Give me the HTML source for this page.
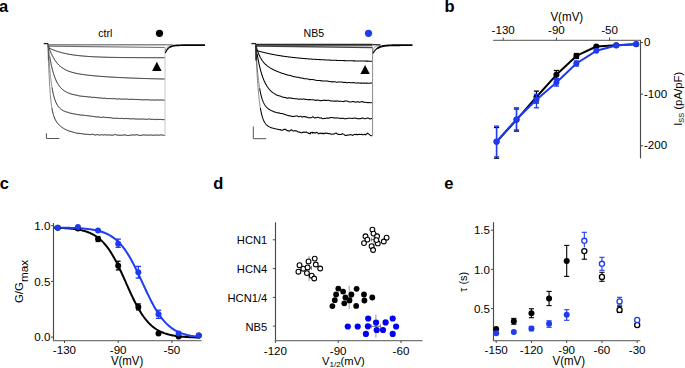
<!DOCTYPE html>
<html><head><meta charset="utf-8"><style>
html,body{margin:0;padding:0;background:#fff;}
body{width:685px;height:368px;overflow:hidden;}
svg{display:block;font-family:"Liberation Sans", sans-serif;}
</style></head><body>
<svg width="685" height="368" viewBox="0 0 685 368">
<rect width="685" height="368" fill="#fff"/>
<text x="-1.1" y="12" font-size="16.5" text-anchor="start" font-weight="bold" fill="#000" >a</text>
<text x="444.6" y="12" font-size="16.5" text-anchor="start" font-weight="bold" fill="#000" >b</text>
<text x="-0.3" y="188.7" font-size="16.5" text-anchor="start" font-weight="bold" fill="#000" >c</text>
<text x="213.3" y="188.7" font-size="16.5" text-anchor="start" font-weight="bold" fill="#000" >d</text>
<text x="444.3" y="188.7" font-size="16.5" text-anchor="start" font-weight="bold" fill="#000" >e</text>
<line x1="43.7" y1="43.6" x2="48.3" y2="43.6" stroke="#222" stroke-width="1.3" />
<line x1="48" y1="44.7" x2="165" y2="44.7" stroke="#888" stroke-width="1.6" />
<line x1="48" y1="46.2" x2="165" y2="47.5" stroke="#707070" stroke-width="1.2" />
<path d="M48.00,44.60 L48.10,45.47 L48.20,46.11 L48.31,46.58 L48.41,46.93 L48.51,47.20 L48.61,47.41 L48.71,47.57 L48.81,47.70 L48.92,47.81 L49.02,47.90 L49.12,47.98 L49.22,48.05 L49.32,48.12 L49.42,48.18 L49.53,48.24 L49.63,48.29 L49.73,48.34 L49.83,48.40 L49.93,48.45 L50.03,48.50 L50.14,48.54 L50.24,48.59 L50.34,48.64 L50.44,48.69 L50.54,48.74 L50.64,48.78 L50.75,48.83 L50.85,48.88 L50.95,48.92 L51.05,48.97 L51.15,49.01 L51.25,49.06 L51.36,49.10 L51.46,49.15 L51.56,49.19 L51.66,49.24 L51.76,49.28 L51.86,49.32 L51.97,49.37 L52.07,49.41 L52.17,49.46 L52.27,49.50 L52.37,49.54 L52.47,49.58 L52.58,49.63 L52.68,49.67 L52.78,49.71 L52.88,49.75 L52.98,49.79 L53.08,49.83 L53.19,49.87 L53.29,49.92 L53.39,49.96 L53.49,50.00 L53.59,50.04 L53.69,50.08 L53.80,50.12 L53.90,50.16 L54.00,50.20 L54.20,50.27 L54.55,50.41 L54.91,50.54 L55.26,50.67 L55.62,50.79 L55.97,50.92 L56.32,51.04 L56.68,51.16 L57.03,51.28 L57.38,51.39 L57.74,51.51 L58.09,51.62 L58.45,51.73 L58.80,51.84 L59.15,51.94 L59.51,52.05 L59.86,52.15 L60.22,52.25 L60.57,52.35 L60.92,52.45 L61.28,52.54 L61.63,52.63 L61.98,52.73 L62.34,52.82 L62.69,52.90 L63.05,52.99 L63.40,53.08 L63.75,53.16 L64.11,53.24 L64.46,53.32 L64.82,53.40 L65.17,53.48 L65.52,53.56 L65.88,53.63 L66.23,53.71 L66.58,53.78 L66.94,53.85 L67.29,53.92 L67.65,53.99 L68.00,54.06 L68.50,54.15 L69.00,54.24 L69.50,54.33 L70.00,54.41 L70.50,54.50 L71.00,54.58 L71.50,54.66 L72.00,54.74 L72.50,54.82 L73.00,54.89 L73.50,54.96 L74.00,55.03 L74.50,55.10 L75.00,55.17 L75.50,55.23 L76.00,55.30 L76.50,55.36 L77.00,55.42 L77.50,55.48 L78.00,55.54 L78.50,55.59 L79.00,55.65 L79.50,55.70 L80.00,55.75 L80.50,55.80 L81.00,55.85 L81.50,55.90 L82.00,55.95 L82.50,55.99 L83.00,56.04 L83.50,56.08 L84.00,56.12 L84.50,56.16 L85.00,56.20 L85.50,56.24 L86.00,56.28 L86.50,56.32 L87.00,56.35 L87.50,56.39 L88.00,56.42 L88.50,56.46 L89.00,56.49 L89.50,56.52 L90.00,56.55 L90.50,56.58 L91.00,56.61 L91.50,56.64 L92.00,56.67 L92.50,56.70 L93.00,56.73 L93.50,56.75 L94.00,56.78 L94.50,56.80 L95.00,56.83 L95.50,56.85 L96.00,56.87 L96.50,56.89 L97.00,56.92 L97.50,56.94 L98.00,56.96 L98.50,56.98 L99.00,57.00 L99.50,57.02 L100.00,57.04 L100.50,57.05 L101.00,57.07 L101.50,57.09 L102.00,57.11 L102.50,57.12 L103.00,57.14 L103.50,57.15 L104.00,57.17 L104.50,57.19 L105.00,57.20 L105.50,57.21 L106.00,57.23 L106.50,57.24 L107.00,57.25 L107.50,57.27 L108.00,57.28 L108.50,57.29 L109.00,57.30 L109.50,57.31 L110.00,57.33 L110.50,57.34 L111.00,57.35 L111.50,57.36 L112.00,57.37 L112.50,57.38 L113.00,57.39 L113.50,57.40 L114.00,57.41 L114.50,57.42 L115.00,57.42 L115.50,57.43 L116.00,57.44 L116.50,57.45 L117.00,57.46 L117.50,57.46 L118.00,57.47 L118.50,57.48 L119.00,57.49 L119.50,57.49 L120.00,57.50 L120.50,57.51 L121.00,57.51 L121.50,57.52 L122.00,57.53 L122.50,57.53 L123.00,57.54 L123.50,57.54 L124.00,57.55 L124.50,57.55 L125.00,57.56 L125.50,57.56 L126.00,57.57 L126.50,57.57 L127.00,57.58 L127.50,57.58 L128.00,57.59 L128.50,57.59 L129.00,57.60 L129.50,57.60 L130.00,57.60 L130.50,57.61 L131.00,57.61 L131.50,57.62 L132.00,57.62 L132.50,57.62 L133.00,57.63 L133.50,57.63 L134.00,57.63 L134.50,57.64 L135.00,57.64 L135.50,57.64 L136.00,57.65 L136.50,57.65 L137.00,57.65 L137.50,57.65 L138.00,57.66 L138.50,57.66 L139.00,57.66 L139.50,57.66 L140.00,57.67 L140.50,57.67 L141.00,57.67 L141.50,57.67 L142.00,57.68 L142.50,57.68 L143.00,57.68 L143.50,57.68 L144.00,57.68 L144.50,57.69 L145.00,57.69 L145.50,57.69 L146.00,57.69 L146.50,57.69 L147.00,57.70 L147.50,57.70 L148.00,57.70 L148.50,57.70 L149.00,57.70 L149.50,57.70 L150.00,57.71 L150.50,57.71 L151.00,57.71 L151.50,57.71 L152.00,57.71 L152.50,57.71 L153.00,57.71 L153.50,57.71 L154.00,57.72 L154.50,57.72 L155.00,57.72 L155.50,57.72 L156.00,57.72 L156.50,57.72 L157.00,57.72 L157.50,57.72 L158.00,57.72 L158.50,57.72 L159.00,57.73 L159.50,57.73 L160.00,57.73 L160.50,57.73 L161.00,57.73 L161.50,57.73 L162.00,57.73 L162.50,57.73 L163.00,57.73 L163.50,57.73 L164.00,57.73 L164.50,57.73 L165.00,57.74" stroke="#161616" stroke-width="1.0" fill="none" stroke-linejoin="round" />
<path d="M48.00,44.60 L48.10,44.93 L48.20,45.26 L48.31,45.58 L48.41,45.90 L48.51,46.21 L48.61,46.52 L48.71,46.83 L48.81,47.14 L48.92,47.44 L49.02,47.73 L49.12,48.03 L49.22,48.32 L49.32,48.60 L49.42,48.89 L49.53,49.17 L49.63,49.44 L49.73,49.72 L49.83,49.99 L49.93,50.26 L50.03,50.52 L50.14,50.78 L50.24,51.04 L50.34,51.30 L50.44,51.55 L50.54,51.80 L50.64,52.05 L50.75,52.29 L50.85,52.53 L50.95,52.77 L51.05,53.00 L51.15,53.24 L51.25,53.47 L51.36,53.69 L51.46,53.92 L51.56,54.14 L51.66,54.36 L51.76,54.58 L51.86,54.79 L51.97,55.01 L52.07,55.22 L52.17,55.42 L52.27,55.63 L52.37,55.83 L52.47,56.03 L52.58,56.23 L52.68,56.43 L52.78,56.62 L52.88,56.81 L52.98,57.00 L53.08,57.19 L53.19,57.38 L53.29,57.56 L53.39,57.74 L53.49,57.92 L53.59,58.10 L53.69,58.27 L53.80,58.44 L53.90,58.62 L54.00,58.78 L54.20,59.11 L54.55,59.67 L54.91,60.21 L55.26,60.73 L55.62,61.23 L55.97,61.72 L56.32,62.18 L56.68,62.62 L57.03,63.05 L57.38,63.47 L57.74,63.86 L58.09,64.25 L58.45,64.62 L58.80,64.97 L59.15,65.31 L59.51,65.64 L59.86,65.96 L60.22,66.27 L60.57,66.57 L60.92,66.85 L61.28,67.13 L61.63,67.39 L61.98,67.65 L62.34,67.90 L62.69,68.13 L63.05,68.37 L63.40,68.59 L63.75,68.80 L64.11,69.01 L64.46,69.21 L64.82,69.41 L65.17,69.60 L65.52,69.78 L65.88,69.95 L66.23,70.12 L66.58,70.29 L66.94,70.45 L67.29,70.60 L67.65,70.75 L68.00,70.90 L68.50,71.10 L69.00,71.29 L69.50,71.47 L70.00,71.64 L70.50,71.81 L71.00,71.97 L71.50,72.13 L72.00,72.27 L72.50,72.42 L73.00,72.55 L73.50,72.69 L74.00,72.81 L74.50,72.94 L75.00,73.06 L75.50,73.17 L76.00,73.28 L76.50,73.39 L77.00,73.49 L77.50,73.59 L78.00,73.69 L78.50,73.78 L79.00,73.88 L79.50,73.96 L80.00,74.05 L80.50,74.13 L81.00,74.22 L81.50,74.30 L82.00,74.37 L82.50,74.45 L83.00,74.52 L83.50,74.59 L84.00,74.66 L84.50,74.73 L85.00,74.80 L85.50,74.86 L86.00,74.93 L86.50,74.99 L87.00,75.05 L87.50,75.11 L88.00,75.17 L88.50,75.22 L89.00,75.28 L89.50,75.33 L90.00,75.39 L90.50,75.44 L91.00,75.49 L91.50,75.54 L92.00,75.60 L92.50,75.64 L93.00,75.69 L93.50,75.74 L94.00,75.79 L94.50,75.83 L95.00,75.88 L95.50,75.92 L96.00,75.97 L96.50,76.01 L97.00,76.05 L97.50,76.10 L98.00,76.14 L98.50,76.18 L99.00,76.22 L99.50,76.26 L100.00,76.30 L100.50,76.34 L101.00,76.38 L101.50,76.41 L102.00,76.45 L102.50,76.49 L103.00,76.52 L103.50,76.56 L104.00,76.60 L104.50,76.63 L105.00,76.67 L105.50,76.70 L106.00,76.73 L106.50,76.77 L107.00,76.80 L107.50,76.83 L108.00,76.87 L108.50,76.90 L109.00,76.93 L109.50,76.96 L110.00,76.99 L110.50,77.02 L111.00,77.05 L111.50,77.08 L112.00,77.11 L112.50,77.14 L113.00,77.17 L113.50,77.20 L114.00,77.23 L114.50,77.25 L115.00,77.28 L115.50,77.31 L116.00,77.34 L116.50,77.36 L117.00,77.39 L117.50,77.42 L118.00,77.44 L118.50,77.47 L119.00,77.49 L119.50,77.52 L120.00,77.54 L120.50,77.57 L121.00,77.59 L121.50,77.62 L122.00,77.64 L122.50,77.67 L123.00,77.69 L123.50,77.71 L124.00,77.74 L124.50,77.76 L125.00,77.78 L125.50,77.80 L126.00,77.82 L126.50,77.85 L127.00,77.87 L127.50,77.89 L128.00,77.91 L128.50,77.93 L129.00,77.95 L129.50,77.97 L130.00,77.99 L130.50,78.01 L131.00,78.03 L131.50,78.05 L132.00,78.07 L132.50,78.09 L133.00,78.11 L133.50,78.13 L134.00,78.15 L134.50,78.17 L135.00,78.19 L135.50,78.21 L136.00,78.22 L136.50,78.24 L137.00,78.26 L137.50,78.28 L138.00,78.29 L138.50,78.31 L139.00,78.33 L139.50,78.35 L140.00,78.36 L140.50,78.38 L141.00,78.40 L141.50,78.41 L142.00,78.43 L142.50,78.44 L143.00,78.46 L143.50,78.48 L144.00,78.49 L144.50,78.51 L145.00,78.52 L145.50,78.54 L146.00,78.55 L146.50,78.57 L147.00,78.58 L147.50,78.60 L148.00,78.61 L148.50,78.62 L149.00,78.64 L149.50,78.65 L150.00,78.67 L150.50,78.68 L151.00,78.69 L151.50,78.71 L152.00,78.72 L152.50,78.73 L153.00,78.75 L153.50,78.76 L154.00,78.77 L154.50,78.78 L155.00,78.80 L155.50,78.81 L156.00,78.82 L156.50,78.83 L157.00,78.84 L157.50,78.86 L158.00,78.87 L158.50,78.88 L159.00,78.89 L159.50,78.90 L160.00,78.91 L160.50,78.93 L161.00,78.94 L161.50,78.95 L162.00,78.96 L162.50,78.97 L163.00,78.98 L163.50,78.99 L164.00,79.00 L164.50,79.01 L165.00,79.02" stroke="#161616" stroke-width="1.0" fill="none" stroke-linejoin="round" />
<path d="M48.00,44.60 L48.10,45.40 L48.20,46.19 L48.31,46.96 L48.41,47.72 L48.51,48.47 L48.61,49.21 L48.71,49.93 L48.81,50.64 L48.92,51.34 L49.02,52.03 L49.12,52.71 L49.22,53.38 L49.32,54.03 L49.42,54.68 L49.53,55.31 L49.63,55.94 L49.73,56.55" stroke="#666" stroke-width="0.8" fill="none" stroke-linejoin="round" />
<path d="M49.73,56.55 L49.83,57.15 L49.93,57.75 L50.03,58.33 L50.14,58.91 L50.24,59.47 L50.34,60.03 L50.44,60.58 L50.54,61.11 L50.64,61.64 L50.75,62.16 L50.85,62.68 L50.95,63.18 L51.05,63.68 L51.15,64.16 L51.25,64.64 L51.36,65.12 L51.46,65.58 L51.56,66.04 L51.66,66.49 L51.76,66.93 L51.86,67.36 L51.97,67.79 L52.07,68.21 L52.17,68.63 L52.27,69.04 L52.37,69.44 L52.47,69.83 L52.58,70.22 L52.68,70.60 L52.78,70.98 L52.88,71.35 L52.98,71.71 L53.08,72.07 L53.19,72.42 L53.29,72.77 L53.39,73.11 L53.49,73.45 L53.59,73.78 L53.69,74.10 L53.80,74.42 L53.90,74.74 L54.00,75.05 L54.20,75.65 L54.55,76.65 L54.91,77.61 L55.26,78.51 L55.62,79.37 L55.97,80.18 L56.32,80.94 L56.68,81.67 L57.03,82.36 L57.38,83.01 L57.74,83.63 L58.09,84.21 L58.45,84.77 L58.80,85.30 L59.15,85.80 L59.51,86.27 L59.86,86.72 L60.22,87.15 L60.57,87.56 L60.92,87.95 L61.28,88.32 L61.63,88.67 L61.98,89.00 L62.34,89.32 L62.69,89.62 L63.05,89.91 L63.40,90.18 L63.75,90.44 L64.11,90.69 L64.46,90.93 L64.82,91.16 L65.17,91.36 L65.52,91.57 L65.88,91.77 L66.23,91.98 L66.58,92.18 L66.94,92.36 L67.29,92.51 L67.65,92.66 L68.00,92.83 L68.50,93.03 L69.00,93.22 L69.50,93.41 L70.00,93.58 L70.50,93.77 L71.00,94.00 L71.50,94.20 L72.00,94.38 L72.50,94.46 L73.00,94.50 L73.50,94.55 L74.00,94.63 L74.50,94.74 L75.00,94.90 L75.50,95.08 L76.00,95.10 L76.50,95.26 L77.00,95.26 L77.50,95.30 L78.00,95.48 L78.50,95.72 L79.00,95.83 L79.50,95.95 L80.00,96.00 L80.50,96.06 L81.00,96.18 L81.50,96.28 L82.00,96.29 L82.50,96.26 L83.00,96.25 L83.50,96.32 L84.00,96.47 L84.50,96.53 L85.00,96.61 L85.50,96.61 L86.00,96.60 L86.50,96.63 L87.00,96.73 L87.50,96.88 L88.00,96.96 L88.50,97.03 L89.00,97.00 L89.50,96.86 L90.00,96.95 L90.50,97.07 L91.00,97.17 L91.50,97.30 L92.00,97.33 L92.50,97.34 L93.00,97.30 L93.50,97.31 L94.00,97.35 L94.50,97.35 L95.00,97.44 L95.50,97.46 L96.00,97.48 L96.50,97.60 L97.00,97.65 L97.50,97.72 L98.00,97.81 L98.50,97.84 L99.00,97.98 L99.50,97.92 L100.00,97.96 L100.50,97.94 L101.00,97.90 L101.50,98.08 L102.00,98.12 L102.50,98.23 L103.00,98.26 L103.50,98.33 L104.00,98.30 L104.50,98.27 L105.00,98.33 L105.50,98.26 L106.00,98.41 L106.50,98.50 L107.00,98.59 L107.50,98.65 L108.00,98.55 L108.50,98.54 L109.00,98.49 L109.50,98.49 L110.00,98.56 L110.50,98.57 L111.00,98.64 L111.50,98.67 L112.00,98.72 L112.50,98.72 L113.00,98.61 L113.50,98.64 L114.00,98.55 L114.50,98.61 L115.00,98.74 L115.50,98.80 L116.00,98.92 L116.50,99.01 L117.00,99.00 L117.50,99.02 L118.00,99.00 L118.50,98.86 L119.00,98.90 L119.50,98.83 L120.00,98.89 L120.50,98.99 L121.00,99.03 L121.50,99.13 L122.00,99.08 L122.50,99.12 L123.00,99.05 L123.50,99.07 L124.00,99.13 L124.50,99.12 L125.00,99.16 L125.50,99.14 L126.00,99.15 L126.50,99.07 L127.00,99.08 L127.50,99.08 L128.00,99.17 L128.50,99.35 L129.00,99.28 L129.50,99.36 L130.00,99.31 L130.50,99.21 L131.00,99.35 L131.50,99.34 L132.00,99.27 L132.50,99.33 L133.00,99.31 L133.50,99.35 L134.00,99.39 L134.50,99.45 L135.00,99.51 L135.50,99.46 L136.00,99.50 L136.50,99.48 L137.00,99.42 L137.50,99.58 L138.00,99.64 L138.50,99.60 L139.00,99.61 L139.50,99.53 L140.00,99.64 L140.50,99.70 L141.00,99.75 L141.50,99.79 L142.00,99.69 L142.50,99.82 L143.00,99.80 L143.50,99.82 L144.00,99.84 L144.50,99.77 L145.00,99.75 L145.50,99.81 L146.00,99.81 L146.50,99.79 L147.00,99.81 L147.50,99.70 L148.00,99.74 L148.50,99.80 L149.00,99.89 L149.50,100.00 L150.00,100.01 L150.50,99.98 L151.00,99.99 L151.50,99.97 L152.00,99.93 L152.50,99.98 L153.00,100.01 L153.50,100.00 L154.00,99.99 L154.50,100.00 L155.00,100.04 L155.50,100.03 L156.00,100.05 L156.50,100.01 L157.00,99.99 L157.50,99.91 L158.00,99.94 L158.50,100.02 L159.00,99.92 L159.50,100.10 L160.00,100.11 L160.50,100.03 L161.00,100.09 L161.50,99.94 L162.00,99.90 L162.50,100.02 L163.00,99.97 L163.50,100.15 L164.00,100.18 L164.50,100.14 L165.00,100.20" stroke="#161616" stroke-width="1.0" fill="none" stroke-linejoin="round" />
<path d="M48.00,44.60 L48.10,46.33 L48.20,48.02 L48.31,49.66 L48.41,51.25 L48.51,52.81 L48.61,54.32 L48.71,55.79 L48.81,57.23 L48.92,58.62 L49.02,59.98 L49.12,61.30 L49.22,62.59 L49.32,63.85 L49.42,65.07 L49.53,66.25 L49.63,67.41 L49.73,68.54 L49.83,69.64 L49.93,70.70 L50.03,71.74 L50.14,72.76 L50.24,73.74 L50.34,74.70 L50.44,75.64 L50.54,76.55 L50.64,77.44 L50.75,78.30 L50.85,79.14 L50.95,79.96 L51.05,80.76 L51.15,81.53 L51.25,82.29 L51.36,83.03 L51.46,83.75 L51.56,84.45 L51.66,85.13 L51.76,85.79 L51.86,86.44 L51.97,87.07 L52.07,87.68" stroke="#666" stroke-width="0.8" fill="none" stroke-linejoin="round" />
<path d="M52.07,87.68 L52.17,88.28 L52.27,88.86 L52.37,89.43 L52.47,89.98 L52.58,90.52 L52.68,91.04 L52.78,91.55 L52.88,92.05 L52.98,92.54 L53.08,93.01 L53.19,93.47 L53.29,93.92 L53.39,94.36 L53.49,94.79 L53.59,95.20 L53.69,95.61 L53.80,96.00 L53.90,96.39 L54.00,96.76 L54.20,97.48 L54.55,98.65 L54.91,99.73 L55.26,100.72 L55.62,101.62 L55.97,102.46 L56.32,103.22 L56.68,103.93 L57.03,104.57 L57.38,105.17 L57.74,105.72 L58.09,106.23 L58.45,106.70 L58.80,107.14 L59.15,107.54 L59.51,107.92 L59.86,108.26 L60.22,108.59 L60.57,108.89 L60.92,109.17 L61.28,109.44 L61.63,109.68 L61.98,109.92 L62.34,110.13 L62.69,110.34 L63.05,110.53 L63.40,110.71 L63.75,110.88 L64.11,111.05 L64.46,111.22 L64.82,111.36 L65.17,111.50 L65.52,111.62 L65.88,111.76 L66.23,111.89 L66.58,112.00 L66.94,112.11 L67.29,112.20 L67.65,112.32 L68.00,112.44 L68.50,112.60 L69.00,112.77 L69.50,112.90 L70.00,113.05 L70.50,113.22 L71.00,113.33 L71.50,113.42 L72.00,113.53 L72.50,113.58 L73.00,113.70 L73.50,113.79 L74.00,113.94 L74.50,113.99 L75.00,114.04 L75.50,114.17 L76.00,114.14 L76.50,114.36 L77.00,114.45 L77.50,114.52 L78.00,114.59 L78.50,114.63 L79.00,114.73 L79.50,114.85 L80.00,114.96 L80.50,115.05 L81.00,115.07 L81.50,115.13 L82.00,115.13 L82.50,115.12 L83.00,115.18 L83.50,115.12 L84.00,115.22 L84.50,115.37 L85.00,115.46 L85.50,115.52 L86.00,115.67 L86.50,115.62 L87.00,115.68 L87.50,115.71 L88.00,115.65 L88.50,115.85 L89.00,115.85 L89.50,115.95 L90.00,116.06 L90.50,116.10 L91.00,116.18 L91.50,116.28 L92.00,116.42 L92.50,116.40 L93.00,116.43 L93.50,116.45 L94.00,116.50 L94.50,116.66 L95.00,116.81 L95.50,116.89 L96.00,116.85 L96.50,116.89 L97.00,116.84 L97.50,116.93 L98.00,117.03 L98.50,116.98 L99.00,117.04 L99.50,117.03 L100.00,117.13 L100.50,117.37 L101.00,117.41 L101.50,117.46 L102.00,117.25 L102.50,117.15 L103.00,117.19 L103.50,117.17 L104.00,117.39 L104.50,117.32 L105.00,117.34 L105.50,117.45 L106.00,117.36 L106.50,117.54 L107.00,117.65 L107.50,117.59 L108.00,117.62 L108.50,117.63 L109.00,117.60 L109.50,117.64 L110.00,117.74 L110.50,117.73 L111.00,117.75 L111.50,117.91 L112.00,117.98 L112.50,118.12 L113.00,118.24 L113.50,118.26 L114.00,118.33 L114.50,118.33 L115.00,118.31 L115.50,118.22 L116.00,118.24 L116.50,118.19 L117.00,118.27 L117.50,118.37 L118.00,118.38 L118.50,118.42 L119.00,118.45 L119.50,118.47 L120.00,118.45 L120.50,118.47 L121.00,118.37 L121.50,118.39 L122.00,118.43 L122.50,118.45 L123.00,118.61 L123.50,118.60 L124.00,118.62 L124.50,118.61 L125.00,118.56 L125.50,118.53 L126.00,118.51 L126.50,118.53 L127.00,118.55 L127.50,118.63 L128.00,118.66 L128.50,118.63 L129.00,118.65 L129.50,118.75 L130.00,118.82 L130.50,118.90 L131.00,118.91 L131.50,118.79 L132.00,118.77 L132.50,118.75 L133.00,118.76 L133.50,118.83 L134.00,118.79 L134.50,118.89 L135.00,118.99 L135.50,118.99 L136.00,119.10 L136.50,119.07 L137.00,119.03 L137.50,118.97 L138.00,119.05 L138.50,119.02 L139.00,119.07 L139.50,119.17 L140.00,119.07 L140.50,119.10 L141.00,119.09 L141.50,119.04 L142.00,119.06 L142.50,119.05 L143.00,118.90 L143.50,119.05 L144.00,119.12 L144.50,119.15 L145.00,119.34 L145.50,119.21 L146.00,119.19 L146.50,119.30 L147.00,119.30 L147.50,119.24 L148.00,119.05 L148.50,118.89 L149.00,118.91 L149.50,119.02 L150.00,119.22 L150.50,119.33 L151.00,119.22 L151.50,119.27 L152.00,119.34 L152.50,119.34 L153.00,119.43 L153.50,119.39 L154.00,119.38 L154.50,119.34 L155.00,119.40 L155.50,119.60 L156.00,119.53 L156.50,119.43 L157.00,119.34 L157.50,119.21 L158.00,119.33 L158.50,119.53 L159.00,119.52 L159.50,119.46 L160.00,119.48 L160.50,119.35 L161.00,119.47 L161.50,119.51 L162.00,119.49 L162.50,119.60 L163.00,119.59 L163.50,119.66 L164.00,119.56 L164.50,119.55 L165.00,119.51" stroke="#161616" stroke-width="1.0" fill="none" stroke-linejoin="round" />
<path d="M48.00,44.60 L48.10,48.16 L48.20,51.55 L48.31,54.77 L48.41,57.83 L48.51,60.74 L48.61,63.51 L48.71,66.15 L48.81,68.65 L48.92,71.04 L49.02,73.31 L49.12,75.47 L49.22,77.53 L49.32,79.49 L49.42,81.36 L49.53,83.14 L49.63,84.84 L49.73,86.46 L49.83,88.00 L49.93,89.47 L50.03,90.87 L50.14,92.21 L50.24,93.48 L50.34,94.70 L50.44,95.86 L50.54,96.98 L50.64,98.04 L50.75,99.05 L50.85,100.02 L50.95,100.95 L51.05,101.84 L51.15,102.69 L51.25,103.50 L51.36,104.28 L51.46,105.02 L51.56,105.74 L51.66,106.42 L51.76,107.08 L51.86,107.71 L51.97,108.31" stroke="#666" stroke-width="0.8" fill="none" stroke-linejoin="round" />
<path d="M51.97,108.31 L52.07,108.90 L52.17,109.45 L52.27,109.99 L52.37,110.50 L52.47,111.00 L52.58,111.48 L52.68,111.94 L52.78,112.38 L52.88,112.80 L52.98,113.22 L53.08,113.61 L53.19,113.99 L53.29,114.36 L53.39,114.72 L53.49,115.06 L53.59,115.40 L53.69,115.72 L53.80,116.03 L53.90,116.33 L54.00,116.62 L54.20,117.17 L54.55,118.07 L54.91,118.88 L55.26,119.62 L55.62,120.29 L55.97,120.91 L56.32,121.49 L56.68,122.02 L57.03,122.52 L57.38,122.99 L57.74,123.43 L58.09,123.85 L58.45,124.25 L58.80,124.62 L59.15,124.98 L59.51,125.32 L59.86,125.65 L60.22,125.96 L60.57,126.26 L60.92,126.55 L61.28,126.83 L61.63,127.10 L61.98,127.35 L62.34,127.60 L62.69,127.84 L63.05,128.08 L63.40,128.30 L63.75,128.51 L64.11,128.73 L64.46,128.95 L64.82,129.13 L65.17,129.33 L65.52,129.51 L65.88,129.68 L66.23,129.89 L66.58,129.98 L66.94,130.13 L67.29,130.29 L67.65,130.42 L68.00,130.67 L68.50,130.89 L69.00,131.03 L69.50,131.18 L70.00,131.31 L70.50,131.45 L71.00,131.63 L71.50,131.71 L72.00,131.87 L72.50,132.01 L73.00,132.21 L73.50,132.33 L74.00,132.53 L74.50,132.43 L75.00,132.50 L75.50,132.89 L76.00,132.84 L76.50,133.19 L77.00,133.22 L77.50,133.24 L78.00,133.23 L78.50,133.31 L79.00,133.50 L79.50,133.36 L80.00,133.63 L80.50,133.55 L81.00,133.54 L81.50,133.69 L82.00,133.63 L82.50,133.86 L83.00,134.06 L83.50,134.09 L84.00,134.12 L84.50,134.08 L85.00,134.01 L85.50,134.15 L86.00,134.23 L86.50,134.35 L87.00,134.41 L87.50,134.30 L88.00,134.43 L88.50,134.33 L89.00,134.37 L89.50,134.61 L90.00,134.47 L90.50,134.58 L91.00,134.47 L91.50,134.31 L92.00,134.30 L92.50,134.29 L93.00,134.41 L93.50,134.49 L94.00,134.79 L94.50,134.86 L95.00,134.99 L95.50,134.99 L96.00,134.84 L96.50,134.76 L97.00,134.55 L97.50,134.58 L98.00,134.76 L98.50,134.89 L99.00,135.02 L99.50,135.17 L100.00,135.00 L100.50,134.91 L101.00,134.86 L101.50,134.64 L102.00,134.67 L102.50,134.91 L103.00,135.01 L103.50,135.01 L104.00,134.99 L104.50,134.80 L105.00,134.67 L105.50,134.78 L106.00,134.90 L106.50,134.96 L107.00,135.17 L107.50,135.05 L108.00,134.84 L108.50,134.94 L109.00,134.98 L109.50,134.97 L110.00,135.14 L110.50,135.03 L111.00,134.99 L111.50,135.15 L112.00,135.09 L112.50,135.11 L113.00,135.08 L113.50,135.06 L114.00,134.94 L114.50,134.66 L115.00,134.58 L115.50,134.44 L116.00,134.63 L116.50,134.96 L117.00,135.06 L117.50,135.18 L118.00,135.16 L118.50,135.21 L119.00,135.12 L119.50,135.24 L120.00,135.30 L120.50,135.22 L121.00,135.42 L121.50,135.27 L122.00,135.29 L122.50,135.19 L123.00,134.99 L123.50,134.96 L124.00,134.92 L124.50,134.92 L125.00,134.99 L125.50,134.99 L126.00,135.04 L126.50,135.29 L127.00,135.31 L127.50,135.56 L128.00,135.52 L128.50,135.55 L129.00,135.54 L129.50,135.25 L130.00,135.33 L130.50,135.13 L131.00,135.03 L131.50,135.11 L132.00,134.83 L132.50,134.83 L133.00,134.82 L133.50,135.02 L134.00,135.22 L134.50,135.09 L135.00,135.05 L135.50,134.87 L136.00,134.63 L136.50,134.77 L137.00,134.91 L137.50,134.89 L138.00,135.01 L138.50,135.07 L139.00,135.20 L139.50,135.41 L140.00,135.46 L140.50,135.49 L141.00,135.30 L141.50,135.20 L142.00,135.11 L142.50,135.10 L143.00,135.05 L143.50,134.93 L144.00,135.02 L144.50,135.00 L145.00,134.98 L145.50,135.02 L146.00,135.04 L146.50,135.01 L147.00,135.06 L147.50,135.12 L148.00,135.08 L148.50,135.19 L149.00,135.31 L149.50,135.18 L150.00,135.01 L150.50,134.89 L151.00,134.95 L151.50,135.08 L152.00,135.36 L152.50,135.31 L153.00,135.08 L153.50,135.13 L154.00,135.06 L154.50,135.17 L155.00,135.17 L155.50,135.12 L156.00,135.05 L156.50,135.06 L157.00,135.13 L157.50,135.06 L158.00,135.07 L158.50,135.11 L159.00,135.16 L159.50,135.15 L160.00,135.11 L160.50,134.90 L161.00,135.03 L161.50,134.94 L162.00,134.95 L162.50,135.10 L163.00,135.08 L163.50,135.23 L164.00,135.37 L164.50,135.39 L165.00,135.37" stroke="#161616" stroke-width="1.0" fill="none" stroke-linejoin="round" />
<line x1="48.4" y1="44.5" x2="48.4" y2="60.5" stroke="#555" stroke-width="1.0" />
<line x1="165" y1="47" x2="165" y2="135.8" stroke="#c8c8c8" stroke-width="1" />
<path d="M165.20,50.50 L165.20,50.05 L165.56,49.34 L165.92,48.73 L166.27,48.21 L166.63,47.78 L166.99,47.41 L167.35,47.09 L167.71,46.82 L168.06,46.59 L168.42,46.40 L168.78,46.23 L169.14,46.09 L169.49,45.97 L169.85,45.87 L170.21,45.79 L170.57,45.71 L170.93,45.65 L171.28,45.60 L171.64,45.55 L172.00,45.52" stroke="#777" stroke-width="0.8" fill="none" stroke-linejoin="round" />
<path d="M165.30,53.09 L165.54,52.54 L165.78,52.03 L166.01,51.55 L166.25,51.11 L166.49,50.69 L166.73,50.31 L166.96,49.95 L167.20,49.62 L167.44,49.31 L167.68,49.02 L167.91,48.75 L168.15,48.50 L168.39,48.27 L168.62,48.05 L168.86,47.85 L169.10,47.66 L169.34,47.49 L169.57,47.32 L169.81,47.17 L170.05,47.03 L170.29,46.90 L170.53,46.78 L170.76,46.67 L171.00,46.56" stroke="#000" stroke-width="1.25" fill="none" stroke-linejoin="round" />
<path d="M170.00,47.06 L170.37,46.86 L170.74,46.68 L171.11,46.52 L171.47,46.37 L171.84,46.24 L172.21,46.13 L172.58,46.03 L172.95,45.93 L173.32,45.85 L173.68,45.78 L174.05,45.71 L174.42,45.65 L174.79,45.60 L175.16,45.55 L175.53,45.51 L175.89,45.47 L176.26,45.44 L176.63,45.41 L177.00,45.38 L177.50,45.35 L178.95,45.28 L180.39,45.23 L181.84,45.20 L183.29,45.18 L184.74,45.17 L186.18,45.16 L187.63,45.16 L189.08,45.16 L190.53,45.15 L191.97,45.15 L193.42,45.15 L194.87,45.15 L196.32,45.15 L197.76,45.15 L199.21,45.15 L200.66,45.15 L202.11,45.15 L203.55,45.15 L205.00,45.15" stroke="#000" stroke-width="1.7" fill="none" stroke-linejoin="round" />
<line x1="165" y1="44.7" x2="173" y2="44.9" stroke="#888" stroke-width="1.2" />
<text x="98.2" y="37.2" font-size="10.6" text-anchor="start" font-weight="normal" fill="#000" >ctrl</text>
<circle cx="159.50" cy="33.30" r="3.6" fill="#000" stroke="none" stroke-width="0"/>
<polygon points="152.1,70.9 161.6,70.9 156.85,61.7" fill="#000"/>
<path d="M46.40,133.30 L46.40,138.50 L59.30,138.50" stroke="#555" stroke-width="1" fill="none" stroke-linejoin="round" />
<line x1="251.39999999999998" y1="43.6" x2="256.0" y2="43.6" stroke="#222" stroke-width="1.3" />
<line x1="255.7" y1="44.7" x2="372.6" y2="44.7" stroke="#2a2a2a" stroke-width="1.9" />
<line x1="255.7" y1="46.2" x2="372.6" y2="47.5" stroke="#444" stroke-width="1.3" />
<path d="M255.70,44.60 L255.80,46.25 L255.90,47.44 L256.01,48.29 L256.11,48.91 L256.21,49.36 L256.31,49.69 L256.41,49.94 L256.51,50.12 L256.62,50.26 L256.72,50.37 L256.82,50.45 L256.92,50.52 L257.02,50.58 L257.12,50.63 L257.23,50.68 L257.33,50.72 L257.43,50.75 L257.53,50.79 L257.63,50.82 L257.73,50.85 L257.84,50.88 L257.94,50.91 L258.04,50.94 L258.14,50.97 L258.24,51.00 L258.34,51.03 L258.45,51.06 L258.55,51.09 L258.65,51.12 L258.75,51.15 L258.85,51.18 L258.95,51.20 L259.06,51.23 L259.16,51.26 L259.26,51.29 L259.36,51.32 L259.46,51.34 L259.56,51.37 L259.67,51.40 L259.77,51.43 L259.87,51.46 L259.97,51.48 L260.07,51.51 L260.17,51.54 L260.28,51.57 L260.38,51.59 L260.48,51.62 L260.58,51.65 L260.68,51.67 L260.78,51.70 L260.89,51.73 L260.99,51.76 L261.09,51.78 L261.19,51.81 L261.29,51.84 L261.39,51.86 L261.50,51.89 L261.60,51.91 L261.70,51.94 L261.90,51.99 L262.25,52.08 L262.61,52.17 L262.96,52.26 L263.32,52.35 L263.67,52.44 L264.02,52.52 L264.38,52.61 L264.73,52.69 L265.08,52.78 L265.44,52.86 L265.79,52.94 L266.15,53.03 L266.50,53.11 L266.85,53.19 L267.21,53.27 L267.56,53.34 L267.92,53.42 L268.27,53.50 L268.62,53.58 L268.98,53.65 L269.33,53.73 L269.68,53.80 L270.04,53.88 L270.39,53.95 L270.75,54.02 L271.10,54.09 L271.45,54.16 L271.81,54.23 L272.16,54.30 L272.52,54.37 L272.87,54.44 L273.22,54.51 L273.58,54.58 L273.93,54.64 L274.28,54.71 L274.64,54.77 L274.99,54.84 L275.35,54.90 L275.70,54.97 L276.20,55.06 L276.70,55.14 L277.20,55.23 L277.70,55.31 L278.20,55.40 L278.70,55.48 L279.20,55.56 L279.70,55.64 L280.20,55.72 L280.70,55.80 L281.20,55.88 L281.70,55.96 L282.20,56.03 L282.70,56.11 L283.20,56.18 L283.70,56.25 L284.20,56.33 L284.70,56.40 L285.20,56.47 L285.70,56.54 L286.20,56.60 L286.70,56.67 L287.20,56.74 L287.70,56.80 L288.20,56.87 L288.70,56.93 L289.20,57.00 L289.70,57.06 L290.20,57.12 L290.70,57.18 L291.20,57.24 L291.70,57.30 L292.20,57.36 L292.70,57.41 L293.20,57.47 L293.70,57.53 L294.20,57.58 L294.70,57.64 L295.20,57.69 L295.70,57.74 L296.20,57.79 L296.70,57.85 L297.20,57.90 L297.70,57.95 L298.20,58.00 L298.70,58.05 L299.20,58.09 L299.70,58.14 L300.20,58.19 L300.70,58.24 L301.20,58.28 L301.70,58.33 L302.20,58.37 L302.70,58.42 L303.20,58.46 L303.70,58.50 L304.20,58.54 L304.70,58.59 L305.20,58.63 L305.70,58.67 L306.20,58.71 L306.70,58.75 L307.20,58.79 L307.70,58.83 L308.20,58.86 L308.70,58.90 L309.20,58.94 L309.70,58.98 L310.20,59.01 L310.70,59.05 L311.20,59.08 L311.70,59.12 L312.20,59.15 L312.70,59.19 L313.20,59.22 L313.70,59.25 L314.20,59.28 L314.70,59.32 L315.20,59.35 L315.70,59.38 L316.20,59.41 L316.70,59.44 L317.20,59.47 L317.70,59.50 L318.20,59.53 L318.70,59.56 L319.20,59.59 L319.70,59.62 L320.20,59.64 L320.70,59.67 L321.20,59.70 L321.70,59.72 L322.20,59.75 L322.70,59.78 L323.20,59.80 L323.70,59.83 L324.20,59.85 L324.70,59.88 L325.20,59.90 L325.70,59.93 L326.20,59.95 L326.70,59.97 L327.20,60.00 L327.70,60.02 L328.20,60.04 L328.70,60.06 L329.20,60.09 L329.70,60.11 L330.20,60.13 L330.70,60.15 L331.20,60.17 L331.70,60.19 L332.20,60.21 L332.70,60.23 L333.20,60.25 L333.70,60.27 L334.20,60.29 L334.70,60.31 L335.20,60.33 L335.70,60.35 L336.20,60.36 L336.70,60.38 L337.20,60.40 L337.70,60.42 L338.20,60.43 L338.70,60.45 L339.20,60.47 L339.70,60.48 L340.20,60.50 L340.70,60.52 L341.20,60.53 L341.70,60.55 L342.20,60.56 L342.70,60.58 L343.20,60.59 L343.70,60.61 L344.20,60.62 L344.70,60.64 L345.20,60.65 L345.70,60.67 L346.20,60.68 L346.70,60.69 L347.20,60.71 L347.70,60.72 L348.20,60.74 L348.70,60.75 L349.20,60.76 L349.70,60.77 L350.20,60.79 L350.70,60.80 L351.20,60.81 L351.70,60.82 L352.20,60.84 L352.70,60.85 L353.20,60.86 L353.70,60.87 L354.20,60.88 L354.70,60.89 L355.20,60.90 L355.70,60.91 L356.20,60.93 L356.70,60.94 L357.20,60.95 L357.70,60.96 L358.20,60.97 L358.70,60.98 L359.20,60.99 L359.70,61.00 L360.20,61.01 L360.70,61.02 L361.20,61.03 L361.70,61.03 L362.20,61.04 L362.70,61.05 L363.20,61.06 L363.70,61.07 L364.20,61.08 L364.70,61.09 L365.20,61.10 L365.70,61.10 L366.20,61.11 L366.70,61.12 L367.20,61.13 L367.70,61.14 L368.20,61.14 L368.70,61.15 L369.20,61.16 L369.70,61.17 L370.20,61.18 L370.70,61.18 L371.20,61.19 L371.70,61.20 L372.20,61.20" stroke="#000" stroke-width="1.05" fill="none" stroke-linejoin="round" />
<path d="M255.70,44.60 L255.80,45.00 L255.90,45.39 L256.01,45.78 L256.11,46.16 L256.21,46.53 L256.31,46.90 L256.41,47.26 L256.51,47.61 L256.62,47.96 L256.72,48.30 L256.82,48.64 L256.92,48.97 L257.02,49.29 L257.12,49.61 L257.23,49.92 L257.33,50.23 L257.43,50.53 L257.53,50.83 L257.63,51.12 L257.73,51.41 L257.84,51.69 L257.94,51.97 L258.04,52.25 L258.14,52.52 L258.24,52.78 L258.34,53.04 L258.45,53.30 L258.55,53.55 L258.65,53.80 L258.75,54.04 L258.85,54.28 L258.95,54.52 L259.06,54.75 L259.16,54.98 L259.26,55.21 L259.36,55.43 L259.46,55.65 L259.56,55.86 L259.67,56.07 L259.77,56.28 L259.87,56.49 L259.97,56.69 L260.07,56.89 L260.17,57.08 L260.28,57.28 L260.38,57.47 L260.48,57.65 L260.58,57.84 L260.68,58.02 L260.78,58.20 L260.89,58.38 L260.99,58.55 L261.09,58.72 L261.19,58.89 L261.29,59.06 L261.39,59.22 L261.50,59.38 L261.60,59.54 L261.70,59.70 L261.90,60.00 L262.25,60.52 L262.61,61.01 L262.96,61.48 L263.32,61.93 L263.67,62.36 L264.02,62.77 L264.38,63.16 L264.73,63.54 L265.08,63.90 L265.44,64.25 L265.79,64.58 L266.15,64.91 L266.50,65.22 L266.85,65.52 L267.21,65.81 L267.56,66.09 L267.92,66.36 L268.27,66.62 L268.62,66.88 L268.98,67.12 L269.33,67.36 L269.68,67.59 L270.04,67.82 L270.39,68.04 L270.75,68.25 L271.10,68.46 L271.45,68.67 L271.81,68.86 L272.16,69.07 L272.52,69.26 L272.87,69.44 L273.22,69.65 L273.58,69.81 L273.93,70.00 L274.28,70.13 L274.64,70.26 L274.99,70.42 L275.35,70.56 L275.70,70.75 L276.20,70.93 L276.70,71.15 L277.20,71.39 L277.70,71.59 L278.20,71.86 L278.70,72.01 L279.20,72.14 L279.70,72.35 L280.20,72.54 L280.70,72.75 L281.20,73.02 L281.70,73.21 L282.20,73.35 L282.70,73.51 L283.20,73.58 L283.70,73.67 L284.20,73.91 L284.70,74.02 L285.20,74.21 L285.70,74.48 L286.20,74.49 L286.70,74.69 L287.20,74.86 L287.70,74.95 L288.20,75.18 L288.70,75.23 L289.20,75.20 L289.70,75.32 L290.20,75.37 L290.70,75.60 L291.20,75.87 L291.70,75.98 L292.20,76.15 L292.70,76.30 L293.20,76.47 L293.70,76.64 L294.20,76.78 L294.70,76.79 L295.20,76.82 L295.70,76.95 L296.20,77.02 L296.70,77.16 L297.20,77.20 L297.70,77.17 L298.20,77.17 L298.70,77.23 L299.20,77.47 L299.70,77.74 L300.20,77.88 L300.70,77.90 L301.20,77.96 L301.70,78.01 L302.20,78.07 L302.70,78.32 L303.20,78.37 L303.70,78.50 L304.20,78.69 L304.70,78.76 L305.20,78.85 L305.70,78.80 L306.20,78.84 L306.70,78.82 L307.20,78.93 L307.70,79.00 L308.20,79.00 L308.70,79.15 L309.20,79.24 L309.70,79.46 L310.20,79.69 L310.70,79.62 L311.20,79.58 L311.70,79.53 L312.20,79.53 L312.70,79.55 L313.20,79.66 L313.70,79.77 L314.20,79.78 L314.70,79.97 L315.20,80.10 L315.70,80.15 L316.20,80.33 L316.70,80.44 L317.20,80.45 L317.70,80.53 L318.20,80.49 L318.70,80.56 L319.20,80.56 L319.70,80.55 L320.20,80.67 L320.70,80.60 L321.20,80.70 L321.70,80.86 L322.20,80.87 L322.70,80.97 L323.20,81.04 L323.70,81.07 L324.20,81.02 L324.70,80.98 L325.20,81.05 L325.70,81.07 L326.20,81.08 L326.70,81.12 L327.20,81.08 L327.70,81.04 L328.20,81.24 L328.70,81.36 L329.20,81.43 L329.70,81.46 L330.20,81.51 L330.70,81.66 L331.20,81.62 L331.70,81.80 L332.20,81.86 L332.70,81.82 L333.20,81.89 L333.70,81.78 L334.20,81.70 L334.70,81.74 L335.20,81.84 L335.70,82.01 L336.20,82.16 L336.70,82.20 L337.20,82.14 L337.70,82.03 L338.20,82.01 L338.70,82.02 L339.20,82.08 L339.70,82.09 L340.20,82.07 L340.70,81.98 L341.20,82.01 L341.70,82.07 L342.20,82.12 L342.70,82.25 L343.20,82.28 L343.70,82.45 L344.20,82.41 L344.70,82.29 L345.20,82.36 L345.70,82.39 L346.20,82.56 L346.70,82.74 L347.20,82.73 L347.70,82.68 L348.20,82.54 L348.70,82.51 L349.20,82.53 L349.70,82.51 L350.20,82.72 L350.70,82.68 L351.20,82.65 L351.70,82.77 L352.20,82.64 L352.70,82.68 L353.20,82.65 L353.70,82.55 L354.20,82.70 L354.70,82.81 L355.20,82.94 L355.70,82.97 L356.20,82.95 L356.70,82.95 L357.20,82.88 L357.70,82.90 L358.20,82.88 L358.70,82.96 L359.20,83.03 L359.70,83.10 L360.20,83.22 L360.70,83.12 L361.20,83.06 L361.70,83.11 L362.20,83.03 L362.70,83.08 L363.20,83.19 L363.70,83.12 L364.20,83.14 L364.70,83.14 L365.20,83.19 L365.70,83.15 L366.20,83.08 L366.70,83.12 L367.20,83.06 L367.70,83.18 L368.20,83.24 L368.70,83.21 L369.20,83.27 L369.70,83.20 L370.20,83.13 L370.70,83.10 L371.20,83.05 L371.70,83.07 L372.20,83.18" stroke="#000" stroke-width="1.05" fill="none" stroke-linejoin="round" />
<path d="M255.70,44.60 L255.80,45.33 L255.90,46.04 L256.01,46.75 L256.11,47.45 L256.21,48.13 L256.31,48.81 L256.41,49.48 L256.51,50.14 L256.62,50.79 L256.72,51.43 L256.82,52.06 L256.92,52.69 L257.02,53.30 L257.12,53.91" stroke="#666" stroke-width="0.8" fill="none" stroke-linejoin="round" />
<path d="M257.12,53.91 L257.23,54.51 L257.33,55.10 L257.43,55.68 L257.53,56.25 L257.63,56.82 L257.73,57.38 L257.84,57.93 L257.94,58.47 L258.04,59.01 L258.14,59.54 L258.24,60.06 L258.34,60.57 L258.45,61.08 L258.55,61.58 L258.65,62.07 L258.75,62.56 L258.85,63.04 L258.95,63.51 L259.06,63.97 L259.16,64.43 L259.26,64.89 L259.36,65.34 L259.46,65.78 L259.56,66.21 L259.67,66.64 L259.77,67.06 L259.87,67.48 L259.97,67.89 L260.07,68.30 L260.17,68.70 L260.28,69.10 L260.38,69.49 L260.48,69.87 L260.58,70.25 L260.68,70.62 L260.78,70.99 L260.89,71.36 L260.99,71.72 L261.09,72.07 L261.19,72.42 L261.29,72.76 L261.39,73.10 L261.50,73.44 L261.60,73.77 L261.70,74.09 L261.90,74.72 L262.25,75.79 L262.61,76.81 L262.96,77.79 L263.32,78.72 L263.67,79.60 L264.02,80.45 L264.38,81.25 L264.73,82.02 L265.08,82.75 L265.44,83.45 L265.79,84.12 L266.15,84.75 L266.50,85.36 L266.85,85.94 L267.21,86.49 L267.56,87.02 L267.92,87.52 L268.27,88.00 L268.62,88.46 L268.98,88.90 L269.33,89.32 L269.68,89.72 L270.04,90.10 L270.39,90.47 L270.75,90.81 L271.10,91.15 L271.45,91.45 L271.81,91.76 L272.16,92.07 L272.52,92.33 L272.87,92.60 L273.22,92.86 L273.58,93.11 L273.93,93.38 L274.28,93.58 L274.64,93.77 L274.99,93.92 L275.35,94.17 L275.70,94.45 L276.20,94.78 L276.70,95.11 L277.20,95.23 L277.70,95.43 L278.20,95.61 L278.70,95.67 L279.20,95.86 L279.70,96.04 L280.20,96.07 L280.70,96.37 L281.20,96.58 L281.70,96.76 L282.20,96.93 L282.70,96.99 L283.20,97.18 L283.70,97.27 L284.20,97.38 L284.70,97.51 L285.20,97.60 L285.70,97.59 L286.20,97.83 L286.70,98.20 L287.20,98.10 L287.70,98.17 L288.20,98.07 L288.70,97.74 L289.20,98.00 L289.70,98.06 L290.20,98.10 L290.70,98.13 L291.20,98.00 L291.70,98.17 L292.20,98.28 L292.70,98.54 L293.20,98.53 L293.70,98.53 L294.20,98.73 L294.70,98.77 L295.20,98.82 L295.70,98.80 L296.20,98.84 L296.70,98.65 L297.20,98.76 L297.70,98.89 L298.20,99.00 L298.70,99.19 L299.20,99.19 L299.70,99.18 L300.20,98.99 L300.70,99.01 L301.20,99.12 L301.70,99.17 L302.20,99.16 L302.70,99.18 L303.20,98.90 L303.70,99.00 L304.20,99.10 L304.70,99.20 L305.20,99.36 L305.70,99.28 L306.20,99.43 L306.70,99.56 L307.20,99.55 L307.70,99.70 L308.20,99.65 L308.70,99.46 L309.20,99.72 L309.70,99.61 L310.20,99.62 L310.70,99.66 L311.20,99.66 L311.70,99.73 L312.20,99.77 L312.70,99.77 L313.20,99.70 L313.70,99.78 L314.20,99.99 L314.70,100.13 L315.20,100.40 L315.70,100.37 L316.20,100.10 L316.70,100.21 L317.20,99.94 L317.70,100.02 L318.20,100.32 L318.70,100.23 L319.20,100.36 L319.70,100.65 L320.20,100.57 L320.70,100.67 L321.20,100.80 L321.70,100.51 L322.20,100.49 L322.70,100.53 L323.20,100.16 L323.70,100.38 L324.20,100.28 L324.70,100.12 L325.20,100.51 L325.70,100.37 L326.20,100.37 L326.70,100.55 L327.20,100.37 L327.70,100.30 L328.20,100.30 L328.70,100.19 L329.20,100.41 L329.70,100.53 L330.20,100.78 L330.70,101.03 L331.20,101.00 L331.70,100.92 L332.20,100.87 L332.70,100.99 L333.20,101.02 L333.70,101.16 L334.20,101.21 L334.70,101.06 L335.20,101.13 L335.70,101.11 L336.20,101.13 L336.70,101.02 L337.20,100.89 L337.70,100.96 L338.20,101.10 L338.70,101.33 L339.20,101.47 L339.70,101.34 L340.20,101.34 L340.70,101.33 L341.20,101.16 L341.70,101.38 L342.20,101.40 L342.70,101.55 L343.20,101.62 L343.70,101.38 L344.20,101.43 L344.70,101.02 L345.20,101.09 L345.70,101.13 L346.20,100.93 L346.70,100.94 L347.20,101.02 L347.70,101.30 L348.20,101.50 L348.70,101.82 L349.20,101.82 L349.70,101.90 L350.20,101.94 L350.70,102.03 L351.20,101.90 L351.70,101.79 L352.20,101.60 L352.70,101.53 L353.20,101.77 L353.70,101.61 L354.20,101.79 L354.70,101.92 L355.20,101.97 L355.70,102.21 L356.20,102.10 L356.70,101.89 L357.20,101.71 L357.70,101.67 L358.20,101.95 L358.70,102.11 L359.20,102.26 L359.70,102.13 L360.20,102.05 L360.70,101.99 L361.20,101.77 L361.70,101.72 L362.20,101.64 L362.70,101.58 L363.20,102.04 L363.70,102.28 L364.20,102.21 L364.70,102.28 L365.20,102.29 L365.70,102.18 L366.20,102.43 L366.70,102.56 L367.20,102.57 L367.70,102.77 L368.20,102.64 L368.70,102.67 L369.20,102.51 L369.70,102.59 L370.20,102.65 L370.70,102.85 L371.20,102.84 L371.70,102.80 L372.20,102.74" stroke="#000" stroke-width="1.05" fill="none" stroke-linejoin="round" />
<path d="M255.70,44.60 L255.80,46.47 L255.90,48.29 L256.01,50.06 L256.11,51.77 L256.21,53.43 L256.31,55.05 L256.41,56.61 L256.51,58.13 L256.62,59.60 L256.72,61.03 L256.82,62.42 L256.92,63.77 L257.02,65.08 L257.12,66.35 L257.23,67.58 L257.33,68.77 L257.43,69.93 L257.53,71.06 L257.63,72.16 L257.73,73.22 L257.84,74.25 L257.94,75.25 L258.04,76.22 L258.14,77.17 L258.24,78.08 L258.34,78.97 L258.45,79.84 L258.55,80.68 L258.65,81.49 L258.75,82.28 L258.85,83.05 L258.95,83.80 L259.06,84.52 L259.16,85.23 L259.26,85.91 L259.36,86.58 L259.46,87.23 L259.56,87.85 L259.67,88.46" stroke="#666" stroke-width="0.8" fill="none" stroke-linejoin="round" />
<path d="M259.67,88.46 L259.77,89.06 L259.87,89.63 L259.97,90.20 L260.07,90.74 L260.17,91.27 L260.28,91.78 L260.38,92.28 L260.48,92.77 L260.58,93.24 L260.68,93.70 L260.78,94.15 L260.89,94.59 L260.99,95.01 L261.09,95.42 L261.19,95.82 L261.29,96.21 L261.39,96.59 L261.50,96.96 L261.60,97.32 L261.70,97.66 L261.90,98.32 L262.25,99.41 L262.61,100.40 L262.96,101.30 L263.32,102.13 L263.67,102.88 L264.02,103.57 L264.38,104.21 L264.73,104.79 L265.08,105.33 L265.44,105.83 L265.79,106.29 L266.15,106.71 L266.50,107.11 L266.85,107.48 L267.21,107.82 L267.56,108.14 L267.92,108.44 L268.27,108.72 L268.62,108.98 L268.98,109.23 L269.33,109.47 L269.68,109.69 L270.04,109.90 L270.39,110.10 L270.75,110.29 L271.10,110.47 L271.45,110.63 L271.81,110.79 L272.16,110.94 L272.52,111.09 L272.87,111.23 L273.22,111.38 L273.58,111.54 L273.93,111.70 L274.28,111.91 L274.64,112.05 L274.99,112.13 L275.35,112.11 L275.70,112.16 L276.20,112.37 L276.70,112.66 L277.20,112.76 L277.70,112.85 L278.20,112.85 L278.70,112.76 L279.20,113.10 L279.70,113.28 L280.20,113.38 L280.70,113.59 L281.20,113.51 L281.70,113.50 L282.20,113.55 L282.70,113.75 L283.20,113.84 L283.70,114.02 L284.20,114.34 L284.70,114.30 L285.20,114.74 L285.70,114.77 L286.20,114.81 L286.70,115.04 L287.20,115.33 L287.70,115.62 L288.20,115.85 L288.70,115.80 L289.20,115.56 L289.70,115.76 L290.20,115.70 L290.70,115.99 L291.20,116.15 L291.70,116.30 L292.20,116.64 L292.70,116.37 L293.20,116.61 L293.70,116.42 L294.20,116.19 L294.70,116.36 L295.20,116.25 L295.70,116.08 L296.20,115.95 L296.70,115.91 L297.20,115.90 L297.70,116.26 L298.20,116.53 L298.70,116.75 L299.20,116.67 L299.70,116.31 L300.20,116.31 L300.70,116.32 L301.20,116.51 L301.70,117.04 L302.20,116.99 L302.70,116.98 L303.20,116.62 L303.70,116.53 L304.20,116.59 L304.70,116.55 L305.20,116.99 L305.70,116.79 L306.20,116.75 L306.70,117.19 L307.20,117.28 L307.70,117.61 L308.20,117.84 L308.70,117.67 L309.20,117.62 L309.70,117.85 L310.20,117.76 L310.70,117.80 L311.20,117.77 L311.70,117.40 L312.20,117.07 L312.70,116.70 L313.20,116.99 L313.70,117.29 L314.20,117.62 L314.70,117.93 L315.20,117.81 L315.70,117.46 L316.20,117.81 L316.70,117.68 L317.20,117.51 L317.70,117.26 L318.20,117.25 L318.70,117.43 L319.20,117.80 L319.70,118.09 L320.20,117.93 L320.70,117.95 L321.20,117.75 L321.70,118.23 L322.20,118.54 L322.70,118.75 L323.20,118.68 L323.70,118.52 L324.20,118.40 L324.70,118.29 L325.20,118.45 L325.70,118.40 L326.20,118.08 L326.70,118.05 L327.20,118.22 L327.70,118.01 L328.20,118.17 L328.70,118.27 L329.20,117.84 L329.70,117.98 L330.20,117.73 L330.70,117.52 L331.20,117.53 L331.70,117.42 L332.20,117.62 L332.70,117.68 L333.20,117.87 L333.70,117.65 L334.20,117.97 L334.70,117.98 L335.20,117.86 L335.70,118.13 L336.20,117.95 L336.70,117.85 L337.20,117.96 L337.70,117.99 L338.20,118.04 L338.70,118.08 L339.20,118.22 L339.70,118.35 L340.20,118.26 L340.70,118.56 L341.20,118.51 L341.70,118.29 L342.20,118.36 L342.70,118.20 L343.20,118.20 L343.70,118.41 L344.20,118.73 L344.70,118.75 L345.20,118.83 L345.70,118.77 L346.20,118.62 L346.70,118.58 L347.20,118.40 L347.70,118.26 L348.20,118.14 L348.70,118.27 L349.20,118.16 L349.70,118.24 L350.20,118.26 L350.70,118.31 L351.20,118.35 L351.70,118.40 L352.20,118.44 L352.70,118.21 L353.20,118.34 L353.70,118.33 L354.20,118.01 L354.70,118.10 L355.20,118.22 L355.70,118.09 L356.20,118.31 L356.70,118.47 L357.20,118.46 L357.70,118.82 L358.20,118.72 L358.70,118.77 L359.20,118.62 L359.70,118.76 L360.20,118.78 L360.70,118.47 L361.20,118.46 L361.70,118.12 L362.20,118.11 L362.70,118.12 L363.20,118.21 L363.70,118.37 L364.20,118.58 L364.70,118.64 L365.20,118.87 L365.70,118.63 L366.20,118.34 L366.70,118.23 L367.20,118.13 L367.70,118.05 L368.20,118.00 L368.70,118.36 L369.20,118.53 L369.70,118.97 L370.20,118.96 L370.70,118.77 L371.20,118.64 L371.70,118.45 L372.20,118.44" stroke="#000" stroke-width="1.05" fill="none" stroke-linejoin="round" />
<path d="M255.70,44.60 L255.80,47.19 L255.90,49.71 L256.01,52.14 L256.11,54.49 L256.21,56.78 L256.31,58.98 L256.41,61.12 L256.51,63.19 L256.62,65.20 L256.72,67.14 L256.82,69.02 L256.92,70.84 L257.02,72.61 L257.12,74.31 L257.23,75.97 L257.33,77.57 L257.43,79.12 L257.53,80.62 L257.63,82.08 L257.73,83.49 L257.84,84.85 L257.94,86.18 L258.04,87.46 L258.14,88.70 L258.24,89.90 L258.34,91.06 L258.45,92.19 L258.55,93.28 L258.65,94.34 L258.75,95.36 L258.85,96.35 L258.95,97.32 L259.06,98.25 L259.16,99.15 L259.26,100.02 L259.36,100.87 L259.46,101.69 L259.56,102.48 L259.67,103.25 L259.77,104.00 L259.87,104.72 L259.97,105.42 L260.07,106.10 L260.17,106.76 L260.28,107.40 L260.38,108.02" stroke="#666" stroke-width="0.8" fill="none" stroke-linejoin="round" />
<path d="M260.38,108.02 L260.48,108.62 L260.58,109.20 L260.68,109.76 L260.78,110.30 L260.89,110.83 L260.99,111.34 L261.09,111.84 L261.19,112.32 L261.29,112.79 L261.39,113.24 L261.50,113.68 L261.60,114.10 L261.70,114.52 L261.90,115.29 L262.25,116.55 L262.61,117.69 L262.96,118.71 L263.32,119.63 L263.67,120.45 L264.02,121.20 L264.38,121.88 L264.73,122.49 L265.08,123.04 L265.44,123.54 L265.79,124.00 L266.15,124.41 L266.50,124.78 L266.85,125.13 L267.21,125.44 L267.56,125.73 L267.92,125.99 L268.27,126.23 L268.62,126.45 L268.98,126.66 L269.33,126.85 L269.68,127.03 L270.04,127.19 L270.39,127.34 L270.75,127.49 L271.10,127.64 L271.45,127.75 L271.81,127.89 L272.16,127.95 L272.52,128.07 L272.87,128.14 L273.22,128.27 L273.58,128.36 L273.93,128.48 L274.28,128.65 L274.64,128.69 L274.99,128.69 L275.35,128.74 L275.70,128.84 L276.20,128.99 L276.70,129.10 L277.20,129.15 L277.70,129.40 L278.20,129.36 L278.70,129.51 L279.20,129.61 L279.70,129.68 L280.20,129.62 L280.70,129.78 L281.20,130.25 L281.70,130.24 L282.20,130.31 L282.70,130.06 L283.20,129.74 L283.70,129.44 L284.20,129.29 L284.70,129.43 L285.20,129.16 L285.70,129.71 L286.20,129.81 L286.70,130.45 L287.20,130.60 L287.70,130.47 L288.20,131.06 L288.70,130.78 L289.20,131.20 L289.70,130.98 L290.20,130.30 L290.70,130.25 L291.20,129.70 L291.70,129.85 L292.20,130.71 L292.70,130.76 L293.20,131.09 L293.70,131.00 L294.20,130.74 L294.70,130.79 L295.20,130.60 L295.70,131.00 L296.20,130.85 L296.70,131.00 L297.20,131.32 L297.70,131.54 L298.20,132.07 L298.70,132.07 L299.20,132.20 L299.70,132.10 L300.20,132.28 L300.70,132.59 L301.20,132.70 L301.70,132.71 L302.20,132.81 L302.70,132.17 L303.20,132.31 L303.70,132.05 L304.20,132.04 L304.70,132.36 L305.20,132.24 L305.70,132.24 L306.20,131.94 L306.70,132.30 L307.20,132.79 L307.70,132.78 L308.20,132.71 L308.70,133.52 L309.20,133.38 L309.70,133.73 L310.20,134.01 L310.70,132.40 L311.20,132.60 L311.70,132.68 L312.20,132.22 L312.70,133.21 L313.20,132.68 L313.70,132.42 L314.20,132.94 L314.70,132.78 L315.20,132.85 L315.70,133.12 L316.20,132.68 L316.70,132.25 L317.20,132.62 L317.70,132.99 L318.20,133.46 L318.70,133.95 L319.20,133.65 L319.70,133.31 L320.20,133.00 L320.70,133.37 L321.20,133.35 L321.70,133.51 L322.20,133.77 L322.70,133.00 L323.20,133.66 L323.70,133.48 L324.20,133.31 L324.70,133.72 L325.20,133.03 L325.70,133.15 L326.20,133.13 L326.70,133.26 L327.20,133.52 L327.70,133.19 L328.20,133.71 L328.70,133.64 L329.20,133.37 L329.70,133.83 L330.20,133.69 L330.70,134.13 L331.20,134.21 L331.70,134.36 L332.20,134.24 L332.70,133.95 L333.20,134.12 L333.70,133.91 L334.20,134.08 L334.70,133.64 L335.20,133.20 L335.70,133.23 L336.20,133.01 L336.70,133.35 L337.20,134.06 L337.70,134.02 L338.20,134.45 L338.70,134.44 L339.20,134.32 L339.70,134.60 L340.20,134.47 L340.70,134.47 L341.20,134.49 L341.70,134.11 L342.20,133.82 L342.70,133.89 L343.20,134.07 L343.70,134.17 L344.20,134.55 L344.70,135.03 L345.20,135.37 L345.70,135.51 L346.20,135.57 L346.70,135.26 L347.20,134.93 L347.70,135.15 L348.20,135.03 L348.70,135.10 L349.20,134.96 L349.70,134.70 L350.20,134.65 L350.70,134.58 L351.20,134.85 L351.70,135.02 L352.20,135.15 L352.70,135.40 L353.20,134.87 L353.70,134.72 L354.20,134.68 L354.70,134.34 L355.20,134.33 L355.70,134.65 L356.20,134.51 L356.70,134.26 L357.20,135.00 L357.70,134.44 L358.20,134.47 L358.70,134.56 L359.20,134.12 L359.70,134.59 L360.20,134.40 L360.70,134.55 L361.20,134.50 L361.70,134.11 L362.20,134.62 L362.70,134.70 L363.20,134.66 L363.70,134.76 L364.20,134.39 L364.70,134.39 L365.20,134.35 L365.70,134.84 L366.20,134.29 L366.70,133.73 L367.20,133.79 L367.70,133.02 L368.20,133.65 L368.70,134.03 L369.20,134.24 L369.70,134.82 L370.20,135.17 L370.70,135.57 L371.20,135.75 L371.70,135.78 L372.20,135.73" stroke="#000" stroke-width="1.05" fill="none" stroke-linejoin="round" />
<line x1="256.09999999999997" y1="44.5" x2="256.09999999999997" y2="60.5" stroke="#222" stroke-width="1.6" />
<line x1="372.6" y1="47" x2="372.6" y2="135.8" stroke="#8a8a8a" stroke-width="1" />
<path d="M372.80,50.50 L372.80,50.05 L373.16,49.34 L373.52,48.73 L373.87,48.21 L374.23,47.78 L374.59,47.41 L374.95,47.09 L375.31,46.82 L375.66,46.59 L376.02,46.40 L376.38,46.23 L376.74,46.09 L377.09,45.97 L377.45,45.87 L377.81,45.79 L378.17,45.71 L378.53,45.65 L378.88,45.60 L379.24,45.55 L379.60,45.52" stroke="#777" stroke-width="0.8" fill="none" stroke-linejoin="round" />
<path d="M372.90,53.31 L373.14,52.91 L373.38,52.53 L373.61,52.16 L373.85,51.82 L374.09,51.49 L374.33,51.18 L374.56,50.88 L374.80,50.60 L375.04,50.33 L375.28,50.07 L375.51,49.83 L375.75,49.60 L375.99,49.38 L376.23,49.17 L376.46,48.97 L376.70,48.79 L376.94,48.61 L377.18,48.44 L377.41,48.27 L377.65,48.12 L377.89,47.97 L378.12,47.84 L378.36,47.70 L378.60,47.58" stroke="#000" stroke-width="1.25" fill="none" stroke-linejoin="round" />
<path d="M377.60,48.15 L377.97,47.93 L378.34,47.72 L378.71,47.52 L379.07,47.34 L379.44,47.18 L379.81,47.03 L380.18,46.88 L380.55,46.75 L380.92,46.63 L381.28,46.52 L381.65,46.42 L382.02,46.32 L382.39,46.23 L382.76,46.15 L383.13,46.08 L383.49,46.01 L383.86,45.94 L384.23,45.88 L384.60,45.83 L385.10,45.76 L386.54,45.60 L387.98,45.48 L389.43,45.39 L390.87,45.33 L392.31,45.28 L393.75,45.25 L395.19,45.22 L396.64,45.20 L398.08,45.19 L399.52,45.18 L400.96,45.17 L402.41,45.17 L403.85,45.16 L405.29,45.16 L406.73,45.16 L408.17,45.15 L409.62,45.15 L411.06,45.15 L412.50,45.15" stroke="#000" stroke-width="1.9" fill="none" stroke-linejoin="round" />
<line x1="372.6" y1="44.7" x2="380.6" y2="44.9" stroke="#2a2a2a" stroke-width="1.2" />
<text x="303.6" y="37.2" font-size="10.6" text-anchor="start" font-weight="normal" fill="#000" >NB5</text>
<circle cx="368.50" cy="33.30" r="3.6" fill="#1f3bf2" stroke="none" stroke-width="0"/>
<polygon points="360.4,73.9 369.8,73.9 365.1,64.9" fill="#000"/>
<path d="M253.30,126.50 L253.30,138.70 L266.30,138.70" stroke="#555" stroke-width="1" fill="none" stroke-linejoin="round" />
<line x1="493.1" y1="40.3" x2="641" y2="40.3" stroke="#757575" stroke-width="1.3" />
<line x1="640.5" y1="40.3" x2="640.5" y2="158.4" stroke="#4a4a4a" stroke-width="1.15" />
<line x1="503.2" y1="40.4" x2="503.2" y2="37.6" stroke="#4a4a4a" stroke-width="1" />
<text x="503.2" y="33.9" font-size="11.6" text-anchor="middle" font-weight="normal" fill="#000" >-130</text>
<line x1="556.4" y1="40.4" x2="556.4" y2="37.6" stroke="#4a4a4a" stroke-width="1" />
<text x="556.4" y="33.9" font-size="11.6" text-anchor="middle" font-weight="normal" fill="#000" >-90</text>
<line x1="609.6" y1="40.4" x2="609.6" y2="37.6" stroke="#4a4a4a" stroke-width="1" />
<text x="609.6" y="33.9" font-size="11.6" text-anchor="middle" font-weight="normal" fill="#000" >-50</text>
<text transform="translate(566.8,20.6) scale(1,1.1)" font-size="11.6" text-anchor="middle" font-weight="normal" fill="#000" >V(mV)</text>
<line x1="640.5" y1="42.5" x2="643" y2="42.5" stroke="#4a4a4a" stroke-width="1" />
<text x="643.9" y="46.1" font-size="11.6" text-anchor="start" font-weight="normal" fill="#000" >0</text>
<line x1="640.5" y1="94.2" x2="643" y2="94.2" stroke="#4a4a4a" stroke-width="1" />
<text x="643.9" y="97.8" font-size="11.6" text-anchor="start" font-weight="normal" fill="#000" >-100</text>
<line x1="640.5" y1="145.8" x2="643" y2="145.8" stroke="#4a4a4a" stroke-width="1" />
<text x="643.9" y="149.4" font-size="11.6" text-anchor="start" font-weight="normal" fill="#000" >-200</text>
<text transform="translate(681.5,125.85) rotate(-90)" font-size="11.2" fill="#000">I<tspan font-size="7.4" dy="2.8">SS</tspan><tspan font-size="11.4" dy="-2.8"> (pA/pF)</tspan></text>
<path d="M496.55,141.80 L516.50,119.80 L536.45,97.00 L556.40,74.80 L576.35,55.90 L596.30,46.50 L616.25,45.20 L636.20,44.20" stroke="#000" stroke-width="2" fill="none" stroke-linejoin="round" />
<line x1="496.54999999999995" y1="127.5" x2="496.54999999999995" y2="158.2" stroke="#000" stroke-width="1.3" />
<line x1="493.94999999999993" y1="127.5" x2="499.15" y2="127.5" stroke="#000" stroke-width="1.3" />
<line x1="493.94999999999993" y1="158.2" x2="499.15" y2="158.2" stroke="#000" stroke-width="1.3" />
<line x1="516.5" y1="109" x2="516.5" y2="131.1" stroke="#000" stroke-width="1.3" />
<line x1="513.9" y1="109" x2="519.1" y2="109" stroke="#000" stroke-width="1.3" />
<line x1="513.9" y1="131.1" x2="519.1" y2="131.1" stroke="#000" stroke-width="1.3" />
<line x1="536.4499999999999" y1="91.1" x2="536.4499999999999" y2="103" stroke="#000" stroke-width="1.3" />
<line x1="533.8499999999999" y1="91.1" x2="539.05" y2="91.1" stroke="#000" stroke-width="1.3" />
<line x1="533.8499999999999" y1="103" x2="539.05" y2="103" stroke="#000" stroke-width="1.3" />
<line x1="556.4" y1="70.5" x2="556.4" y2="79.1" stroke="#000" stroke-width="1.3" />
<line x1="553.8" y1="70.5" x2="559.0" y2="70.5" stroke="#000" stroke-width="1.3" />
<line x1="553.8" y1="79.1" x2="559.0" y2="79.1" stroke="#000" stroke-width="1.3" />
<line x1="576.35" y1="53.5" x2="576.35" y2="58.5" stroke="#000" stroke-width="1.3" />
<line x1="573.75" y1="53.5" x2="578.95" y2="53.5" stroke="#000" stroke-width="1.3" />
<line x1="573.75" y1="58.5" x2="578.95" y2="58.5" stroke="#000" stroke-width="1.3" />
<circle cx="496.55" cy="141.80" r="3" fill="#000" stroke="none" stroke-width="0"/>
<circle cx="516.50" cy="119.80" r="3" fill="#000" stroke="none" stroke-width="0"/>
<circle cx="536.45" cy="97.00" r="3" fill="#000" stroke="none" stroke-width="0"/>
<circle cx="556.40" cy="74.80" r="3" fill="#000" stroke="none" stroke-width="0"/>
<circle cx="576.35" cy="55.90" r="3" fill="#000" stroke="none" stroke-width="0"/>
<circle cx="596.30" cy="46.50" r="3" fill="#000" stroke="none" stroke-width="0"/>
<circle cx="616.25" cy="45.20" r="3" fill="#000" stroke="none" stroke-width="0"/>
<circle cx="636.20" cy="44.20" r="3" fill="#000" stroke="none" stroke-width="0"/>
<path d="M496.55,141.60 L516.50,119.30 L536.45,99.80 L556.40,82.40 L576.35,63.50 L596.30,50.80 L616.25,45.50 L636.20,44.00" stroke="#1f3bf2" stroke-width="2" fill="none" stroke-linejoin="round" />
<line x1="496.54999999999995" y1="126.1" x2="496.54999999999995" y2="156.8" stroke="#1f3bf2" stroke-width="1.3" />
<line x1="493.94999999999993" y1="126.1" x2="499.15" y2="126.1" stroke="#1f3bf2" stroke-width="1.3" />
<line x1="493.94999999999993" y1="156.8" x2="499.15" y2="156.8" stroke="#1f3bf2" stroke-width="1.3" />
<line x1="516.5" y1="107.8" x2="516.5" y2="129.9" stroke="#1f3bf2" stroke-width="1.3" />
<line x1="513.9" y1="107.8" x2="519.1" y2="107.8" stroke="#1f3bf2" stroke-width="1.3" />
<line x1="513.9" y1="129.9" x2="519.1" y2="129.9" stroke="#1f3bf2" stroke-width="1.3" />
<line x1="536.4499999999999" y1="94.3" x2="536.4499999999999" y2="107.8" stroke="#1f3bf2" stroke-width="1.3" />
<line x1="533.8499999999999" y1="94.3" x2="539.05" y2="94.3" stroke="#1f3bf2" stroke-width="1.3" />
<line x1="533.8499999999999" y1="107.8" x2="539.05" y2="107.8" stroke="#1f3bf2" stroke-width="1.3" />
<line x1="556.4" y1="78.7" x2="556.4" y2="86.1" stroke="#1f3bf2" stroke-width="1.3" />
<line x1="553.8" y1="78.7" x2="559.0" y2="78.7" stroke="#1f3bf2" stroke-width="1.3" />
<line x1="553.8" y1="86.1" x2="559.0" y2="86.1" stroke="#1f3bf2" stroke-width="1.3" />
<line x1="576.35" y1="61" x2="576.35" y2="66" stroke="#1f3bf2" stroke-width="1.3" />
<line x1="573.75" y1="61" x2="578.95" y2="61" stroke="#1f3bf2" stroke-width="1.3" />
<line x1="573.75" y1="66" x2="578.95" y2="66" stroke="#1f3bf2" stroke-width="1.3" />
<circle cx="496.55" cy="141.60" r="3" fill="#1f3bf2" stroke="none" stroke-width="0"/>
<circle cx="516.50" cy="119.30" r="3" fill="#1f3bf2" stroke="none" stroke-width="0"/>
<circle cx="536.45" cy="99.80" r="3" fill="#1f3bf2" stroke="none" stroke-width="0"/>
<circle cx="556.40" cy="82.40" r="3" fill="#1f3bf2" stroke="none" stroke-width="0"/>
<circle cx="576.35" cy="63.50" r="3" fill="#1f3bf2" stroke="none" stroke-width="0"/>
<circle cx="596.30" cy="50.80" r="3" fill="#1f3bf2" stroke="none" stroke-width="0"/>
<circle cx="616.25" cy="45.50" r="3" fill="#1f3bf2" stroke="none" stroke-width="0"/>
<circle cx="636.20" cy="44.00" r="3" fill="#1f3bf2" stroke="none" stroke-width="0"/>
<line x1="53.5" y1="223" x2="53.5" y2="341.2" stroke="#4a4a4a" stroke-width="1.15" />
<line x1="53.0" y1="340.65" x2="201.5" y2="340.65" stroke="#757575" stroke-width="1.3" />
<line x1="51.0" y1="225.70000000000002" x2="53.5" y2="225.70000000000002" stroke="#4a4a4a" stroke-width="1" />
<text x="50.4" y="229.9" font-size="11.6" text-anchor="end" font-weight="normal" fill="#000" >1.0</text>
<line x1="51.0" y1="281.40000000000003" x2="53.5" y2="281.40000000000003" stroke="#4a4a4a" stroke-width="1" />
<text x="50.4" y="285.6" font-size="11.6" text-anchor="end" font-weight="normal" fill="#000" >0.5</text>
<line x1="51.0" y1="337.1" x2="53.5" y2="337.1" stroke="#4a4a4a" stroke-width="1" />
<text x="50.4" y="341.3" font-size="11.6" text-anchor="end" font-weight="normal" fill="#000" >0.0</text>
<line x1="64.48" y1="340.6" x2="64.48" y2="343.0" stroke="#4a4a4a" stroke-width="1" />
<text x="64.48" y="354.3" font-size="11.6" text-anchor="middle" font-weight="normal" fill="#000" >-130</text>
<line x1="118.2" y1="340.6" x2="118.2" y2="343.0" stroke="#4a4a4a" stroke-width="1" />
<text x="118.2" y="354.3" font-size="11.6" text-anchor="middle" font-weight="normal" fill="#000" >-90</text>
<line x1="171.92000000000002" y1="340.6" x2="171.92000000000002" y2="343.0" stroke="#4a4a4a" stroke-width="1" />
<text x="171.92000000000002" y="354.3" font-size="11.6" text-anchor="middle" font-weight="normal" fill="#000" >-50</text>
<text transform="translate(127.1,364.5) scale(1,1.08)" font-size="11.45" text-anchor="middle" font-weight="normal" fill="#000" >V(mV)</text>
<text transform="translate(23,303) rotate(-90)" font-size="11.4" fill="#000">G/G<tspan font-size="11.8" dy="4.6">max</tspan></text>
<path d="M53.74,227.70 L54.47,227.72 L55.21,227.74 L55.94,227.76 L56.68,227.78 L57.41,227.80 L58.15,227.83 L58.89,227.86 L59.62,227.88 L60.36,227.91 L61.09,227.95 L61.83,227.98 L62.56,228.02 L63.30,228.06 L64.03,228.10 L64.77,228.14 L65.51,228.19 L66.24,228.23 L66.98,228.29 L67.71,228.34 L68.45,228.40 L69.18,228.46 L69.92,228.53 L70.66,228.59 L71.39,228.67 L72.13,228.75 L72.86,228.83 L73.60,228.92 L74.33,229.01 L75.07,229.11 L75.80,229.21 L76.54,229.32 L77.28,229.44 L78.01,229.56 L78.75,229.69 L79.48,229.83 L80.22,229.98 L80.95,230.14 L81.69,230.30 L82.42,230.48 L83.16,230.66 L83.90,230.86 L84.63,231.07 L85.37,231.28 L86.10,231.52 L86.84,231.76 L87.57,232.02 L88.31,232.29 L89.05,232.58 L89.78,232.89 L90.52,233.21 L91.25,233.55 L91.99,233.91 L92.72,234.29 L93.46,234.68 L94.19,235.10 L94.93,235.55 L95.67,236.01 L96.40,236.50 L97.14,237.01 L97.87,237.55 L98.61,238.12 L99.34,238.72 L100.08,239.34 L100.82,240.00 L101.55,240.68 L102.29,241.40 L103.02,242.15 L103.76,242.94 L104.49,243.76 L105.23,244.61 L105.96,245.50 L106.70,246.43 L107.44,247.39 L108.17,248.39 L108.91,249.43 L109.64,250.51 L110.38,251.63 L111.11,252.78 L111.85,253.97 L112.59,255.20 L113.32,256.47 L114.06,257.77 L114.79,259.11 L115.53,260.49 L116.26,261.90 L117.00,263.33 L117.73,264.80 L118.47,266.30 L119.21,267.83 L119.94,269.38 L120.68,270.95 L121.41,272.54 L122.15,274.15 L122.88,275.78 L123.62,277.42 L124.35,279.06 L125.09,280.71 L125.83,282.37 L126.56,284.03 L127.30,285.68 L128.03,287.33 L128.77,288.97 L129.50,290.60 L130.24,292.21 L130.98,293.81 L131.71,295.38 L132.45,296.94 L133.18,298.47 L133.92,299.98 L134.65,301.46 L135.39,302.90 L136.12,304.32 L136.86,305.70 L137.60,307.05 L138.33,308.36 L139.07,309.64 L139.80,310.88 L140.54,312.08 L141.27,313.25 L142.01,314.37 L142.75,315.46 L143.48,316.51 L144.22,317.52 L144.95,318.50 L145.69,319.43 L146.42,320.33 L147.16,321.20 L147.89,322.03 L148.63,322.82 L149.37,323.58 L150.10,324.31 L150.84,325.00 L151.57,325.66 L152.31,326.29 L153.04,326.90 L153.78,327.47 L154.51,328.02 L155.25,328.54 L155.99,329.04 L156.72,329.51 L157.46,329.96 L158.19,330.38 L158.93,330.78 L159.66,331.17 L160.40,331.53 L161.14,331.88 L161.87,332.20 L162.61,332.51 L163.34,332.80 L164.08,333.08 L164.81,333.34 L165.55,333.59 L166.28,333.83 L167.02,334.05 L167.76,334.26 L168.49,334.46 L169.23,334.65 L169.96,334.83 L170.70,334.99 L171.43,335.15 L172.17,335.30 L172.91,335.44 L173.64,335.58 L174.38,335.70 L175.11,335.82 L175.85,335.93 L176.58,336.04 L177.32,336.14 L178.05,336.23 L178.79,336.32 L179.53,336.41 L180.26,336.49 L181.00,336.56 L181.73,336.63 L182.47,336.70 L183.20,336.76 L183.94,336.82 L184.68,336.87 L185.41,336.93 L186.15,336.98 L186.88,337.02 L187.62,337.07 L188.35,337.11 L189.09,337.15 L189.82,337.18 L190.56,337.22 L191.30,337.25 L192.03,337.28 L192.77,337.31 L193.50,337.34 L194.24,337.36 L194.97,337.39 L195.71,337.41 L196.44,337.43 L197.18,337.45 L197.92,337.47 L198.65,337.49 L199.39,337.51 L200.12,337.52" stroke="#000" stroke-width="2" fill="none" stroke-linejoin="round" />
<path d="M53.74,227.61 L54.47,227.61 L55.21,227.62 L55.94,227.63 L56.68,227.63 L57.41,227.64 L58.15,227.65 L58.89,227.66 L59.62,227.67 L60.36,227.68 L61.09,227.69 L61.83,227.70 L62.56,227.71 L63.30,227.72 L64.03,227.74 L64.77,227.75 L65.51,227.76 L66.24,227.78 L66.98,227.80 L67.71,227.81 L68.45,227.83 L69.18,227.85 L69.92,227.87 L70.66,227.89 L71.39,227.92 L72.13,227.94 L72.86,227.97 L73.60,227.99 L74.33,228.02 L75.07,228.05 L75.80,228.08 L76.54,228.12 L77.28,228.16 L78.01,228.19 L78.75,228.24 L79.48,228.28 L80.22,228.32 L80.95,228.37 L81.69,228.42 L82.42,228.48 L83.16,228.54 L83.90,228.60 L84.63,228.66 L85.37,228.73 L86.10,228.80 L86.84,228.88 L87.57,228.96 L88.31,229.04 L89.05,229.13 L89.78,229.23 L90.52,229.33 L91.25,229.44 L91.99,229.55 L92.72,229.67 L93.46,229.79 L94.19,229.93 L94.93,230.07 L95.67,230.22 L96.40,230.37 L97.14,230.54 L97.87,230.72 L98.61,230.90 L99.34,231.10 L100.08,231.30 L100.82,231.52 L101.55,231.75 L102.29,231.99 L103.02,232.25 L103.76,232.52 L104.49,232.80 L105.23,233.10 L105.96,233.42 L106.70,233.75 L107.44,234.10 L108.17,234.47 L108.91,234.86 L109.64,235.26 L110.38,235.69 L111.11,236.14 L111.85,236.61 L112.59,237.11 L113.32,237.63 L114.06,238.17 L114.79,238.74 L115.53,239.34 L116.26,239.97 L117.00,240.62 L117.73,241.30 L118.47,242.02 L119.21,242.76 L119.94,243.54 L120.68,244.35 L121.41,245.19 L122.15,246.07 L122.88,246.98 L123.62,247.93 L124.35,248.91 L125.09,249.92 L125.83,250.98 L126.56,252.06 L127.30,253.19 L128.03,254.35 L128.77,255.54 L129.50,256.77 L130.24,258.03 L130.98,259.32 L131.71,260.65 L132.45,262.01 L133.18,263.40 L133.92,264.81 L134.65,266.26 L135.39,267.73 L136.12,269.22 L136.86,270.73 L137.60,272.27 L138.33,273.82 L139.07,275.38 L139.80,276.96 L140.54,278.55 L141.27,280.14 L142.01,281.74 L142.75,283.34 L143.48,284.94 L144.22,286.54 L144.95,288.13 L145.69,289.71 L146.42,291.28 L147.16,292.83 L147.89,294.37 L148.63,295.90 L149.37,297.40 L150.10,298.88 L150.84,300.33 L151.57,301.76 L152.31,303.16 L153.04,304.53 L153.78,305.87 L154.51,307.17 L155.25,308.45 L155.99,309.69 L156.72,310.90 L157.46,312.07 L158.19,313.21 L158.93,314.31 L159.66,315.37 L160.40,316.41 L161.14,317.40 L161.87,318.36 L162.61,319.28 L163.34,320.17 L164.08,321.03 L164.81,321.85 L165.55,322.64 L166.28,323.40 L167.02,324.13 L167.76,324.82 L168.49,325.49 L169.23,326.12 L169.96,326.73 L170.70,327.31 L171.43,327.87 L172.17,328.40 L172.91,328.90 L173.64,329.38 L174.38,329.84 L175.11,330.28 L175.85,330.69 L176.58,331.09 L177.32,331.46 L178.05,331.82 L178.79,332.16 L179.53,332.48 L180.26,332.79 L181.00,333.08 L181.73,333.35 L182.47,333.61 L183.20,333.86 L183.94,334.10 L184.68,334.32 L185.41,334.53 L186.15,334.73 L186.88,334.92 L187.62,335.10 L188.35,335.27 L189.09,335.43 L189.82,335.58 L190.56,335.73 L191.30,335.86 L192.03,335.99 L192.77,336.11 L193.50,336.23 L194.24,336.34 L194.97,336.44 L195.71,336.54 L196.44,336.63 L197.18,336.72 L197.92,336.80 L198.65,336.88 L199.39,336.95 L200.12,337.02" stroke="#1f3bf2" stroke-width="2" fill="none" stroke-linejoin="round" />
<line x1="98.055" y1="236.5" x2="98.055" y2="241.5" stroke="#000" stroke-width="1.3" />
<line x1="95.655" y1="236.5" x2="100.45500000000001" y2="236.5" stroke="#000" stroke-width="1.3" />
<line x1="95.655" y1="241.5" x2="100.45500000000001" y2="241.5" stroke="#000" stroke-width="1.3" />
<line x1="118.2" y1="261.2" x2="118.2" y2="269.9" stroke="#000" stroke-width="1.3" />
<line x1="115.8" y1="261.2" x2="120.60000000000001" y2="261.2" stroke="#000" stroke-width="1.3" />
<line x1="115.8" y1="269.9" x2="120.60000000000001" y2="269.9" stroke="#000" stroke-width="1.3" />
<line x1="138.345" y1="303.9" x2="138.345" y2="309.9" stroke="#000" stroke-width="1.3" />
<line x1="135.945" y1="303.9" x2="140.745" y2="303.9" stroke="#000" stroke-width="1.3" />
<line x1="135.945" y1="309.9" x2="140.745" y2="309.9" stroke="#000" stroke-width="1.3" />
<circle cx="57.77" cy="227.80" r="3" fill="#000" stroke="none" stroke-width="0"/>
<circle cx="77.91" cy="228.50" r="3" fill="#000" stroke="none" stroke-width="0"/>
<circle cx="98.06" cy="239.00" r="3" fill="#000" stroke="none" stroke-width="0"/>
<circle cx="118.20" cy="265.80" r="3" fill="#000" stroke="none" stroke-width="0"/>
<circle cx="138.34" cy="306.90" r="3" fill="#000" stroke="none" stroke-width="0"/>
<circle cx="158.49" cy="333.60" r="3" fill="#000" stroke="none" stroke-width="0"/>
<circle cx="178.63" cy="336.50" r="3" fill="#000" stroke="none" stroke-width="0"/>
<circle cx="198.78" cy="335.40" r="3" fill="#000" stroke="none" stroke-width="0"/>
<line x1="118.2" y1="239.1" x2="118.2" y2="247.3" stroke="#1f3bf2" stroke-width="1.3" />
<line x1="115.5" y1="239.1" x2="120.9" y2="239.1" stroke="#1f3bf2" stroke-width="1.3" />
<line x1="115.5" y1="247.3" x2="120.9" y2="247.3" stroke="#1f3bf2" stroke-width="1.3" />
<line x1="138.345" y1="266.4" x2="138.345" y2="278.1" stroke="#1f3bf2" stroke-width="1.3" />
<line x1="135.645" y1="266.4" x2="141.045" y2="266.4" stroke="#1f3bf2" stroke-width="1.3" />
<line x1="135.645" y1="278.1" x2="141.045" y2="278.1" stroke="#1f3bf2" stroke-width="1.3" />
<line x1="158.49" y1="310.2" x2="158.49" y2="318.4" stroke="#1f3bf2" stroke-width="1.3" />
<line x1="155.79000000000002" y1="310.2" x2="161.19" y2="310.2" stroke="#1f3bf2" stroke-width="1.3" />
<line x1="155.79000000000002" y1="318.4" x2="161.19" y2="318.4" stroke="#1f3bf2" stroke-width="1.3" />
<circle cx="57.77" cy="227.80" r="3" fill="#1f3bf2" stroke="none" stroke-width="0"/>
<circle cx="77.91" cy="227.10" r="3" fill="#1f3bf2" stroke="none" stroke-width="0"/>
<circle cx="98.06" cy="230.60" r="3" fill="#1f3bf2" stroke="none" stroke-width="0"/>
<circle cx="118.20" cy="243.80" r="3" fill="#1f3bf2" stroke="none" stroke-width="0"/>
<circle cx="138.34" cy="272.30" r="3" fill="#1f3bf2" stroke="none" stroke-width="0"/>
<circle cx="158.49" cy="314.20" r="3" fill="#1f3bf2" stroke="none" stroke-width="0"/>
<circle cx="178.63" cy="333.60" r="3" fill="#1f3bf2" stroke="none" stroke-width="0"/>
<circle cx="198.78" cy="335.40" r="3" fill="#1f3bf2" stroke="none" stroke-width="0"/>
<line x1="275.5" y1="222.3" x2="275.5" y2="341.2" stroke="#4a4a4a" stroke-width="1.15" />
<line x1="274.9" y1="340.65" x2="422.5" y2="340.65" stroke="#757575" stroke-width="1.3" />
<line x1="272.8" y1="239.8" x2="275.5" y2="239.8" stroke="#4a4a4a" stroke-width="1" />
<text x="267.3" y="244.4" font-size="11.2" text-anchor="end" font-weight="normal" fill="#000" >HCN1</text>
<line x1="272.8" y1="268.6" x2="275.5" y2="268.6" stroke="#4a4a4a" stroke-width="1" />
<text x="267.3" y="273.20000000000005" font-size="11.2" text-anchor="end" font-weight="normal" fill="#000" >HCN4</text>
<line x1="272.8" y1="297.4" x2="275.5" y2="297.4" stroke="#4a4a4a" stroke-width="1" />
<text x="267.3" y="302.0" font-size="11.2" text-anchor="end" font-weight="normal" fill="#000" >HCN1/4</text>
<line x1="272.8" y1="326.1" x2="275.5" y2="326.1" stroke="#4a4a4a" stroke-width="1" />
<text x="267.3" y="330.70000000000005" font-size="11.2" text-anchor="end" font-weight="normal" fill="#000" >NB5</text>
<line x1="275.4" y1="340.6" x2="275.4" y2="343.0" stroke="#4a4a4a" stroke-width="1" />
<text x="275.4" y="354.5" font-size="11.6" text-anchor="middle" font-weight="normal" fill="#000" >-120</text>
<line x1="338.2" y1="340.6" x2="338.2" y2="343.0" stroke="#4a4a4a" stroke-width="1" />
<text x="338.2" y="354.5" font-size="11.6" text-anchor="middle" font-weight="normal" fill="#000" >-90</text>
<line x1="401.0" y1="340.6" x2="401.0" y2="343.0" stroke="#4a4a4a" stroke-width="1" />
<text x="401.0" y="354.5" font-size="11.6" text-anchor="middle" font-weight="normal" fill="#000" >-60</text>
<text x="322" y="364.6" font-size="11.2" fill="#000">V<tspan font-size="8" dy="2.5">1/2</tspan><tspan dy="-2.5">(mV)</tspan></text>
<line x1="374" y1="229" x2="374" y2="251" stroke="#9a9a9a" stroke-width="1" />
<line x1="371.5" y1="239.6" x2="376.5" y2="239.6" stroke="#666" stroke-width="1" />
<line x1="371.5" y1="237.6" x2="371.5" y2="241.6" stroke="#666" stroke-width="0.8" />
<line x1="376.5" y1="237.6" x2="376.5" y2="241.6" stroke="#666" stroke-width="0.8" />
<line x1="309" y1="256" x2="309" y2="281" stroke="#9a9a9a" stroke-width="1" />
<line x1="306.5" y1="268" x2="311.5" y2="268" stroke="#666" stroke-width="1" />
<line x1="306.5" y1="266" x2="306.5" y2="270" stroke="#666" stroke-width="0.8" />
<line x1="311.5" y1="266" x2="311.5" y2="270" stroke="#666" stroke-width="0.8" />
<line x1="349.2" y1="285.9" x2="349.2" y2="309" stroke="#9a9a9a" stroke-width="1" />
<line x1="346.7" y1="297.4" x2="351.7" y2="297.4" stroke="#666" stroke-width="1" />
<line x1="346.7" y1="295.4" x2="346.7" y2="299.4" stroke="#666" stroke-width="0.8" />
<line x1="351.7" y1="295.4" x2="351.7" y2="299.4" stroke="#666" stroke-width="0.8" />
<line x1="375.9" y1="314.7" x2="375.9" y2="337.7" stroke="#9a9a9a" stroke-width="1" />
<line x1="371.29999999999995" y1="326.3" x2="380.5" y2="326.3" stroke="#666" stroke-width="1" />
<line x1="371.29999999999995" y1="324.3" x2="371.29999999999995" y2="328.3" stroke="#666" stroke-width="0.8" />
<line x1="380.5" y1="324.3" x2="380.5" y2="328.3" stroke="#666" stroke-width="0.8" />
<circle cx="372.40" cy="229.60" r="2.4" fill="#fff" stroke="#000" stroke-width="1.1"/>
<circle cx="373.50" cy="233.60" r="2.4" fill="#fff" stroke="#000" stroke-width="1.1"/>
<circle cx="377.10" cy="236.30" r="2.4" fill="#fff" stroke="#000" stroke-width="1.1"/>
<circle cx="365.50" cy="236.30" r="2.4" fill="#fff" stroke="#000" stroke-width="1.1"/>
<circle cx="367.40" cy="239.60" r="2.4" fill="#fff" stroke="#000" stroke-width="1.1"/>
<circle cx="364.00" cy="243.10" r="2.4" fill="#fff" stroke="#000" stroke-width="1.1"/>
<circle cx="377.80" cy="243.40" r="2.4" fill="#fff" stroke="#000" stroke-width="1.1"/>
<circle cx="376.40" cy="240.10" r="2.4" fill="#fff" stroke="#000" stroke-width="1.1"/>
<circle cx="386.60" cy="237.70" r="2.4" fill="#fff" stroke="#000" stroke-width="1.1"/>
<circle cx="383.80" cy="241.50" r="2.4" fill="#fff" stroke="#000" stroke-width="1.1"/>
<circle cx="371.60" cy="246.20" r="2.4" fill="#fff" stroke="#000" stroke-width="1.1"/>
<circle cx="373.10" cy="250.00" r="2.4" fill="#fff" stroke="#000" stroke-width="1.1"/>
<circle cx="314.70" cy="258.60" r="2.4" fill="#fff" stroke="#000" stroke-width="1.1"/>
<circle cx="308.50" cy="261.40" r="2.4" fill="#fff" stroke="#000" stroke-width="1.1"/>
<circle cx="315.80" cy="264.50" r="2.4" fill="#fff" stroke="#000" stroke-width="1.1"/>
<circle cx="320.20" cy="268.50" r="2.4" fill="#fff" stroke="#000" stroke-width="1.1"/>
<circle cx="299.50" cy="265.20" r="2.4" fill="#fff" stroke="#000" stroke-width="1.1"/>
<circle cx="303.30" cy="268.70" r="2.4" fill="#fff" stroke="#000" stroke-width="1.1"/>
<circle cx="307.60" cy="267.40" r="2.4" fill="#fff" stroke="#000" stroke-width="1.1"/>
<circle cx="298.40" cy="271.70" r="2.4" fill="#fff" stroke="#000" stroke-width="1.1"/>
<circle cx="306.90" cy="273.10" r="2.4" fill="#fff" stroke="#000" stroke-width="1.1"/>
<circle cx="311.70" cy="275.70" r="2.4" fill="#fff" stroke="#000" stroke-width="1.1"/>
<circle cx="314.20" cy="278.50" r="2.4" fill="#fff" stroke="#000" stroke-width="1.1"/>
<circle cx="338.30" cy="288.60" r="2.9" fill="#000" stroke="none" stroke-width="0"/>
<circle cx="343.10" cy="291.60" r="2.9" fill="#000" stroke="none" stroke-width="0"/>
<circle cx="336.10" cy="294.50" r="2.9" fill="#000" stroke="none" stroke-width="0"/>
<circle cx="334.80" cy="300.20" r="2.9" fill="#000" stroke="none" stroke-width="0"/>
<circle cx="332.40" cy="306.10" r="2.9" fill="#000" stroke="none" stroke-width="0"/>
<circle cx="345.40" cy="297.50" r="2.9" fill="#000" stroke="none" stroke-width="0"/>
<circle cx="344.30" cy="303.30" r="2.9" fill="#000" stroke="none" stroke-width="0"/>
<circle cx="349.50" cy="300.40" r="2.9" fill="#000" stroke="none" stroke-width="0"/>
<circle cx="351.40" cy="294.50" r="2.9" fill="#000" stroke="none" stroke-width="0"/>
<circle cx="356.60" cy="288.80" r="2.9" fill="#000" stroke="none" stroke-width="0"/>
<circle cx="356.20" cy="305.90" r="2.9" fill="#000" stroke="none" stroke-width="0"/>
<circle cx="364.00" cy="294.50" r="2.9" fill="#000" stroke="none" stroke-width="0"/>
<circle cx="364.40" cy="300.50" r="2.9" fill="#000" stroke="none" stroke-width="0"/>
<circle cx="372.30" cy="297.50" r="2.9" fill="#000" stroke="none" stroke-width="0"/>
<circle cx="347.80" cy="326.50" r="3.1" fill="#0000f5" stroke="none" stroke-width="0"/>
<circle cx="357.70" cy="326.50" r="3.1" fill="#0000f5" stroke="none" stroke-width="0"/>
<circle cx="368.20" cy="318.50" r="3.1" fill="#0000f5" stroke="none" stroke-width="0"/>
<circle cx="367.90" cy="326.30" r="3.1" fill="#0000f5" stroke="none" stroke-width="0"/>
<circle cx="365.90" cy="333.90" r="3.1" fill="#0000f5" stroke="none" stroke-width="0"/>
<circle cx="376.10" cy="322.60" r="3.1" fill="#0000f5" stroke="none" stroke-width="0"/>
<circle cx="376.70" cy="330.00" r="3.1" fill="#0000f5" stroke="none" stroke-width="0"/>
<circle cx="383.00" cy="330.00" r="3.1" fill="#0000f5" stroke="none" stroke-width="0"/>
<circle cx="385.60" cy="322.40" r="3.1" fill="#0000f5" stroke="none" stroke-width="0"/>
<circle cx="392.70" cy="318.50" r="3.1" fill="#0000f5" stroke="none" stroke-width="0"/>
<circle cx="396.10" cy="326.50" r="3.1" fill="#0000f5" stroke="none" stroke-width="0"/>
<circle cx="392.70" cy="333.90" r="3.1" fill="#0000f5" stroke="none" stroke-width="0"/>
<line x1="493.5" y1="222.2" x2="493.5" y2="341.2" stroke="#4a4a4a" stroke-width="1.15" />
<line x1="492.9" y1="340.65" x2="640.3" y2="340.65" stroke="#757575" stroke-width="1.3" />
<line x1="491.0" y1="230.2" x2="493.5" y2="230.2" stroke="#4a4a4a" stroke-width="1" />
<text x="490.0" y="234.39999999999998" font-size="11.6" text-anchor="end" font-weight="normal" fill="#000" >1.5</text>
<line x1="491.0" y1="269.4" x2="493.5" y2="269.4" stroke="#4a4a4a" stroke-width="1" />
<text x="490.0" y="273.59999999999997" font-size="11.6" text-anchor="end" font-weight="normal" fill="#000" >1.0</text>
<line x1="491.0" y1="308.6" x2="493.5" y2="308.6" stroke="#4a4a4a" stroke-width="1" />
<text x="490.0" y="312.8" font-size="11.6" text-anchor="end" font-weight="normal" fill="#000" >0.5</text>
<line x1="496.2" y1="340.6" x2="496.2" y2="343.0" stroke="#4a4a4a" stroke-width="1" />
<text x="496.2" y="354.1" font-size="11.6" text-anchor="middle" font-weight="normal" fill="#000" >-150</text>
<line x1="531.45" y1="340.6" x2="531.45" y2="343.0" stroke="#4a4a4a" stroke-width="1" />
<text x="531.45" y="354.1" font-size="11.6" text-anchor="middle" font-weight="normal" fill="#000" >-120</text>
<line x1="566.7" y1="340.6" x2="566.7" y2="343.0" stroke="#4a4a4a" stroke-width="1" />
<text x="566.7" y="354.1" font-size="11.6" text-anchor="middle" font-weight="normal" fill="#000" >-90</text>
<line x1="601.95" y1="340.6" x2="601.95" y2="343.0" stroke="#4a4a4a" stroke-width="1" />
<text x="601.95" y="354.1" font-size="11.6" text-anchor="middle" font-weight="normal" fill="#000" >-60</text>
<line x1="637.2" y1="340.6" x2="637.2" y2="343.0" stroke="#4a4a4a" stroke-width="1" />
<text x="637.2" y="354.1" font-size="11.6" text-anchor="middle" font-weight="normal" fill="#000" >-30</text>
<text transform="translate(568.8,364.8) scale(1,1.06)" font-size="11.5" text-anchor="middle" font-weight="normal" fill="#000" >V(mV)</text>
<text transform="translate(466.8,292) rotate(-90)" font-size="11" fill="#000">τ (s)</text>
<line x1="513.825" y1="318.4" x2="513.825" y2="324.2" stroke="#000" stroke-width="1.1" />
<line x1="511.225" y1="318.4" x2="516.4250000000001" y2="318.4" stroke="#000" stroke-width="1.1" />
<line x1="511.225" y1="324.2" x2="516.4250000000001" y2="324.2" stroke="#000" stroke-width="1.1" />
<line x1="531.45" y1="308.8" x2="531.45" y2="317.7" stroke="#000" stroke-width="1.1" />
<line x1="528.85" y1="308.8" x2="534.0500000000001" y2="308.8" stroke="#000" stroke-width="1.1" />
<line x1="528.85" y1="317.7" x2="534.0500000000001" y2="317.7" stroke="#000" stroke-width="1.1" />
<line x1="549.075" y1="291.4" x2="549.075" y2="305.6" stroke="#000" stroke-width="1.1" />
<line x1="546.475" y1="291.4" x2="551.6750000000001" y2="291.4" stroke="#000" stroke-width="1.1" />
<line x1="546.475" y1="305.6" x2="551.6750000000001" y2="305.6" stroke="#000" stroke-width="1.1" />
<line x1="566.7" y1="245.4" x2="566.7" y2="276.4" stroke="#000" stroke-width="1.1" />
<line x1="564.1" y1="245.4" x2="569.3000000000001" y2="245.4" stroke="#000" stroke-width="1.1" />
<line x1="564.1" y1="276.4" x2="569.3000000000001" y2="276.4" stroke="#000" stroke-width="1.1" />
<circle cx="496.20" cy="329.00" r="3" fill="#000" stroke="none" stroke-width="0"/>
<circle cx="513.83" cy="321.30" r="3" fill="#000" stroke="none" stroke-width="0"/>
<circle cx="531.45" cy="313.20" r="3" fill="#000" stroke="none" stroke-width="0"/>
<circle cx="549.08" cy="298.40" r="3" fill="#000" stroke="none" stroke-width="0"/>
<circle cx="566.70" cy="260.90" r="3" fill="#000" stroke="none" stroke-width="0"/>
<line x1="531.45" y1="326.5" x2="531.45" y2="330.8" stroke="#1f3bf2" stroke-width="1.1" />
<line x1="528.85" y1="326.5" x2="534.0500000000001" y2="326.5" stroke="#1f3bf2" stroke-width="1.1" />
<line x1="528.85" y1="330.8" x2="534.0500000000001" y2="330.8" stroke="#1f3bf2" stroke-width="1.1" />
<line x1="549.075" y1="320.8" x2="549.075" y2="327.3" stroke="#1f3bf2" stroke-width="1.1" />
<line x1="546.475" y1="320.8" x2="551.6750000000001" y2="320.8" stroke="#1f3bf2" stroke-width="1.1" />
<line x1="546.475" y1="327.3" x2="551.6750000000001" y2="327.3" stroke="#1f3bf2" stroke-width="1.1" />
<line x1="566.7" y1="309.7" x2="566.7" y2="320.3" stroke="#1f3bf2" stroke-width="1.1" />
<line x1="564.1" y1="309.7" x2="569.3000000000001" y2="309.7" stroke="#1f3bf2" stroke-width="1.1" />
<line x1="564.1" y1="320.3" x2="569.3000000000001" y2="320.3" stroke="#1f3bf2" stroke-width="1.1" />
<circle cx="496.20" cy="333.20" r="3" fill="#1f3bf2" stroke="none" stroke-width="0"/>
<circle cx="513.83" cy="332.10" r="3" fill="#1f3bf2" stroke="none" stroke-width="0"/>
<circle cx="531.45" cy="328.60" r="3" fill="#1f3bf2" stroke="none" stroke-width="0"/>
<circle cx="549.08" cy="323.70" r="3" fill="#1f3bf2" stroke="none" stroke-width="0"/>
<circle cx="566.70" cy="314.70" r="3" fill="#1f3bf2" stroke="none" stroke-width="0"/>
<line x1="584.325" y1="251" x2="584.325" y2="259.2" stroke="#000" stroke-width="1.1" />
<line x1="581.725" y1="259.2" x2="586.9250000000001" y2="259.2" stroke="#000" stroke-width="1.1" />
<line x1="601.95" y1="272.3" x2="601.95" y2="281.3" stroke="#000" stroke-width="1.1" />
<line x1="599.35" y1="272.3" x2="604.5500000000001" y2="272.3" stroke="#000" stroke-width="1.1" />
<line x1="599.35" y1="281.3" x2="604.5500000000001" y2="281.3" stroke="#000" stroke-width="1.1" />
<line x1="619.575" y1="306.3" x2="619.575" y2="312.5" stroke="#000" stroke-width="1.1" />
<line x1="616.975" y1="306.3" x2="622.1750000000001" y2="306.3" stroke="#000" stroke-width="1.1" />
<line x1="616.975" y1="312.5" x2="622.1750000000001" y2="312.5" stroke="#000" stroke-width="1.1" />
<circle cx="584.33" cy="251.10" r="2.55" fill="#fff" stroke="#000" stroke-width="1.3"/>
<circle cx="601.95" cy="276.90" r="2.55" fill="#fff" stroke="#000" stroke-width="1.3"/>
<circle cx="619.58" cy="309.90" r="2.55" fill="#fff" stroke="#000" stroke-width="1.3"/>
<circle cx="637.20" cy="325.00" r="2.55" fill="#fff" stroke="#000" stroke-width="1.3"/>
<line x1="584.325" y1="232.3" x2="584.325" y2="247.5" stroke="#1f3bf2" stroke-width="1.1" />
<line x1="581.725" y1="232.3" x2="586.9250000000001" y2="232.3" stroke="#1f3bf2" stroke-width="1.1" />
<line x1="601.95" y1="257.3" x2="601.95" y2="270.3" stroke="#1f3bf2" stroke-width="1.1" />
<line x1="599.35" y1="257.3" x2="604.5500000000001" y2="257.3" stroke="#1f3bf2" stroke-width="1.1" />
<line x1="599.35" y1="270.3" x2="604.5500000000001" y2="270.3" stroke="#1f3bf2" stroke-width="1.1" />
<line x1="619.575" y1="297.3" x2="619.575" y2="305.2" stroke="#1f3bf2" stroke-width="1.1" />
<line x1="616.975" y1="297.3" x2="622.1750000000001" y2="297.3" stroke="#1f3bf2" stroke-width="1.1" />
<line x1="616.975" y1="305.2" x2="622.1750000000001" y2="305.2" stroke="#1f3bf2" stroke-width="1.1" />
<circle cx="584.33" cy="240.80" r="2.55" fill="#fff" stroke="#1f3bf2" stroke-width="1.3"/>
<circle cx="601.95" cy="263.80" r="2.55" fill="#fff" stroke="#1f3bf2" stroke-width="1.3"/>
<circle cx="619.58" cy="301.40" r="2.55" fill="#fff" stroke="#1f3bf2" stroke-width="1.3"/>
<circle cx="637.20" cy="320.00" r="2.55" fill="#fff" stroke="#1f3bf2" stroke-width="1.3"/>
</svg>
</body></html>
